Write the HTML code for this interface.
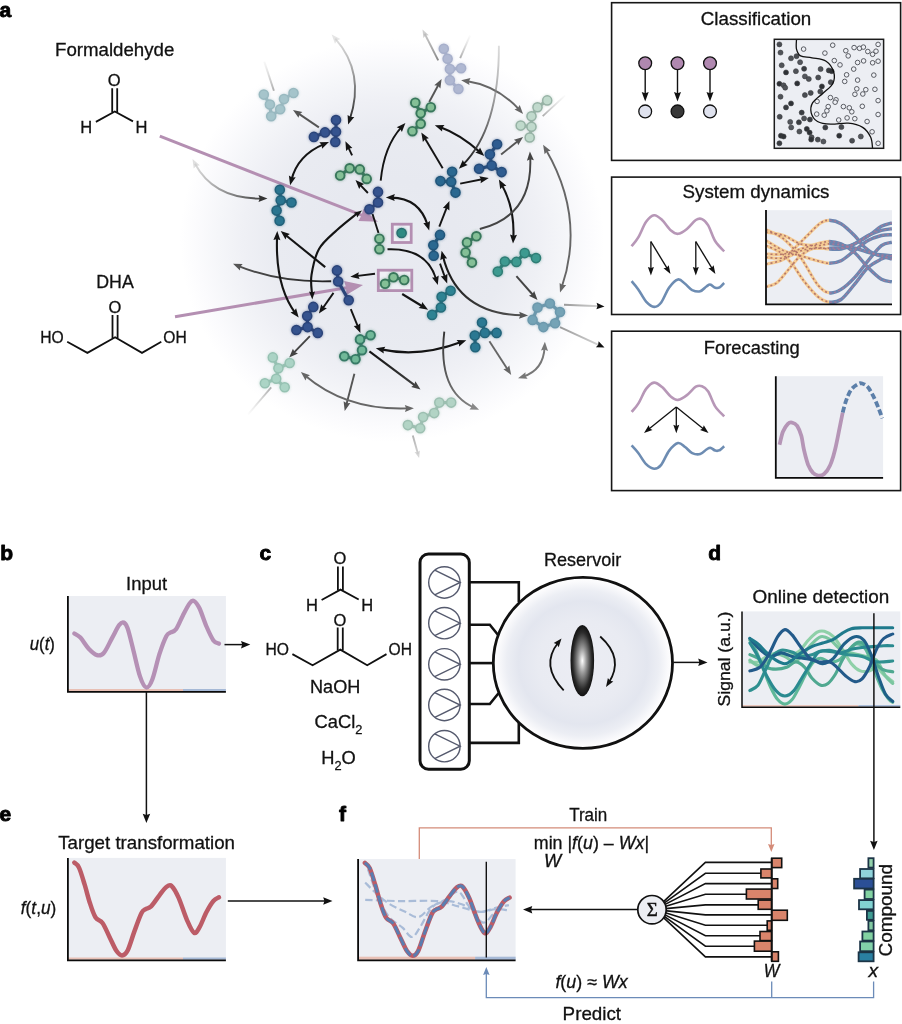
<!DOCTYPE html>
<html><head><meta charset="utf-8"><title>Figure</title>
<style>
html,body{margin:0;padding:0;background:#fff;}
svg{display:block;font-family:"Liberation Sans",sans-serif;}
text:not(.b){stroke:#111;stroke-width:.3px;}
</style></head><body>
<svg width="902" height="1024" viewBox="0 0 902 1024">
<defs>
<radialGradient id="blob" cx="0.5" cy="0.5" r="0.5">
<stop offset="0" stop-color="#e9ebf1"/><stop offset="0.3" stop-color="#e7e9f0"/><stop offset="0.55" stop-color="#e9ebf1"/><stop offset="0.7" stop-color="#eff0f5"/><stop offset="0.82" stop-color="#f5f6f9"/><stop offset="0.92" stop-color="#fbfbfd"/><stop offset="1" stop-color="#ffffff"/>
</radialGradient>
<radialGradient id="resv" cx="0.5" cy="0.5" r="0.5">
<stop offset="0" stop-color="#ecedf4"/><stop offset="0.5" stop-color="#e9ebf2"/><stop offset="0.72" stop-color="#e3e6ef"/><stop offset="0.85" stop-color="#eceef4"/><stop offset="0.95" stop-color="#fafafc"/><stop offset="1" stop-color="#ffffff"/>
</radialGradient>
<radialGradient id="stir" cx="0.5" cy="0.5" r="0.5">
<stop offset="0" stop-color="#ffffff"/><stop offset="0.35" stop-color="#9a9a9a"/><stop offset="0.8" stop-color="#2a2a2a"/><stop offset="1" stop-color="#111"/>
</radialGradient>
<filter id="sh" x="-30%" y="-30%" width="160%" height="160%"><feGaussianBlur in="SourceGraphic" stdDeviation="1.6" result="b"/><feComponentTransfer in="b" result="b2"><feFuncA type="linear" slope="0.55"/></feComponentTransfer><feMerge><feMergeNode in="b2"/><feMergeNode in="SourceGraphic"/></feMerge></filter>
</defs>
<rect width="902" height="1024" fill="#fff"/>
<g opacity="0.999">

<!-- panel a -->
<ellipse cx="392" cy="240" rx="212" ry="202" fill="url(#blob)"/>
<text class="b" x="-0.6" y="17.4" font-size="21" font-weight="bold" fill="#000" stroke="#000" stroke-width="0.9" stroke-linejoin="round">a</text>
<text x="55" y="55.7" font-size="18.6" text-anchor="start" font-weight="normal" font-style="normal" fill="#111" textLength="119.3" lengthAdjust="spacingAndGlyphs" >Formaldehyde</text>
<text x="96.3" y="288" font-size="18.6" text-anchor="start" font-weight="normal" font-style="normal" fill="#111" textLength="37.5" lengthAdjust="spacingAndGlyphs" >DHA</text>
<g stroke="#111" stroke-width="1.8" fill="none" stroke-linecap="butt">
<path d="M112.2 88.3V112.2 M117.2 88.3V112.2"/>
<path d="M95.9 121.9L114.8 111.5L133 121.4"/>
</g>
<text x="114.2" y="85.9" font-size="16.5" text-anchor="middle" font-weight="normal" font-style="normal" fill="#111" >O</text>
<text x="86.2" y="132.5" font-size="16.5" text-anchor="middle" font-weight="normal" font-style="normal" fill="#111" >H</text>
<text x="141.5" y="132.5" font-size="16.5" text-anchor="middle" font-weight="normal" font-style="normal" fill="#111" >H</text>
<g stroke="#111" stroke-width="1.8" fill="none">
<path d="M112.5 315.1V338 M117.6 315.1V338"/>
<path d="M67.2 341.8L87.4 352.9L115.1 337.3L142 352.9L161.3 341.8"/>
</g>
<text x="114.8" y="313.3" font-size="16.5" text-anchor="middle" font-weight="normal" font-style="normal" fill="#111" >O</text>
<text x="40.3" y="343" font-size="16.5" text-anchor="start" font-weight="normal" font-style="normal" fill="#111" textLength="23.5" lengthAdjust="spacingAndGlyphs" >HO</text>
<text x="163.3" y="343" font-size="16.5" text-anchor="start" font-weight="normal" font-style="normal" fill="#111" textLength="23.4" lengthAdjust="spacingAndGlyphs" >OH</text>
<path d="M159.8 136.2L363 215.7" stroke="#b48fb2" stroke-width="3" fill="none"/>
<polygon points="378,221.7 358.4,221 361.6,215.3 363.1,208.9" fill="#b48fb2"/>
<path d="M175 316.7L348 287.5" stroke="#b48fb2" stroke-width="3" fill="none"/>
<polygon points="363,285 346.4,294.9 346.1,287.8 344.1,281.1" fill="#b48fb2"/>
<rect x="392.3" y="224.2" width="18.9" height="18.3" fill="#eff0f6" stroke="#b48fb2" stroke-width="2.8"/>
<rect x="378.3" y="270.2" width="33.5" height="20.4" fill="#eff0f6" stroke="#b48fb2" stroke-width="2.8"/>
<linearGradient id="g1" gradientUnits="userSpaceOnUse" x1="273.9" y1="90.8" x2="264.3" y2="61.6"><stop offset="0" stop-color="#999" stop-opacity="0.8"/><stop offset="1" stop-color="#bbb" stop-opacity="0.1"/></linearGradient>
<path d="M273.9 90.8L264.3 61.6" fill="none" stroke="url(#g1)" stroke-width="1.9" opacity="1"/>
<linearGradient id="g2" gradientUnits="userSpaceOnUse" x1="271.2" y1="387.3" x2="248.1" y2="414.3"><stop offset="0" stop-color="#999" stop-opacity="0.8"/><stop offset="1" stop-color="#bbb" stop-opacity="0.05"/></linearGradient>
<path d="M271.2 387.3L248.1 414.3" fill="none" stroke="url(#g2)" stroke-width="1.8" opacity="1"/>
<linearGradient id="g3" gradientUnits="userSpaceOnUse" x1="460.2" y1="58.2" x2="470.1" y2="35.3"><stop offset="0" stop-color="#999" stop-opacity="0.8"/><stop offset="1" stop-color="#bbb" stop-opacity="0.05"/></linearGradient>
<path d="M460.2 58.2L470.1 35.3" fill="none" stroke="url(#g3)" stroke-width="1.9" opacity="1"/>
<linearGradient id="g4" gradientUnits="userSpaceOnUse" x1="542.7" y1="116.2" x2="565.2" y2="95.3"><stop offset="0" stop-color="#999" stop-opacity="0.8"/><stop offset="1" stop-color="#bbb" stop-opacity="0.05"/></linearGradient>
<path d="M542.7 116.2L565.2 95.3" fill="none" stroke="url(#g4)" stroke-width="1.8" opacity="1"/>
<linearGradient id="g5" gradientUnits="userSpaceOnUse" x1="438.2" y1="60.4" x2="422.5" y2="29.4"><stop offset="0" stop-color="#888" stop-opacity="1"/><stop offset="1" stop-color="#bbb" stop-opacity="0.7"/></linearGradient>
<path d="M438.2 60.4L424.7 33.7" fill="none" stroke="url(#g5)" stroke-width="1.9" opacity="1"/>
<polygon points="422.5,29.4 428.8,35.2 425.6,35.6 423.4,37.9" fill="#bbb" opacity="0.7"/>
<linearGradient id="g6" gradientUnits="userSpaceOnUse" x1="412.8" y1="435.6" x2="419.1" y2="458.1"><stop offset="0" stop-color="#aaa" stop-opacity="0.9"/><stop offset="1" stop-color="#ccc" stop-opacity="0.8"/></linearGradient>
<path d="M412.8 435.6L418 454.1" fill="none" stroke="url(#g6)" stroke-width="1.9" opacity="1"/>
<polygon points="419.1,458.1 414.6,452.1 417.5,452.2 419.9,450.6" fill="#ccc" opacity="0.8"/>
<linearGradient id="g7" gradientUnits="userSpaceOnUse" x1="331.7" y1="34.6" x2="348.1" y2="124.5"><stop offset="0" stop-color="#ccc" stop-opacity="0.5"/><stop offset="1" stop-color="#1a1a1a" stop-opacity="1"/></linearGradient>
<path d="M335.3 38.7Q365.3 72.9 349.8 119.4" fill="none" stroke="url(#g7)" stroke-width="1.9" opacity="1"/>
<polygon points="348.1,124.5 347.6,114.9 350.6,117.1 354.3,117.1" fill="#1a1a1a" opacity="1"/>
<polygon points="331.7,34.6 340.3,39.1 336.9,40.5 335,43.7" fill="#ccc" opacity="0.5"/>
<path d="M318.9 127.4L297.5 112.9" fill="none" stroke="#555" stroke-width="1.9" opacity="1"/>
<polygon points="293,109.9 302.4,112 299.5,114.3 298.5,117.8" fill="#555" opacity="1"/>
<path d="M324 144.1Q297.7 155 291.4 180" fill="none" stroke="#141414" stroke-width="2.1" opacity="1"/>
<polygon points="290.1,185.2 288.9,175.6 292,177.6 295.7,177.3" fill="#141414" opacity="1"/>
<polygon points="329,142 322,148.7 321.8,145 319.3,142.2" fill="#141414" opacity="1"/>
<linearGradient id="g8" gradientUnits="userSpaceOnUse" x1="192.5" y1="159" x2="267.5" y2="198.5"><stop offset="0" stop-color="#ccc" stop-opacity="0.6"/><stop offset="1" stop-color="#333" stop-opacity="1"/></linearGradient>
<path d="M195 163.8Q214 199.2 262.1 198.6" fill="none" stroke="url(#g8)" stroke-width="1.9" opacity="1"/>
<polygon points="267.5,198.5 258.5,202.1 259.7,198.6 258.5,195.1" fill="#333" opacity="1"/>
<polygon points="192.5,159 199.8,165.3 196.2,165.9 193.7,168.6" fill="#ccc" opacity="0.6"/>
<path d="M352.1 155.3L347.7 146.2" fill="none" stroke="#141414" stroke-width="1.9" opacity="1"/>
<polygon points="345.4,141.3 352.4,147.9 348.8,148.4 346.1,150.9" fill="#141414" opacity="1"/>
<path d="M367.9 193L359.2 183.9" fill="none" stroke="#141414" stroke-width="1.9" opacity="1"/>
<polygon points="355.5,180 364.2,184.1 360.9,185.7 359.2,188.9" fill="#141414" opacity="1"/>
<path d="M380.7 180.7Q384 146.2 401.7 126.9" fill="none" stroke="#141414" stroke-width="1.9" opacity="1"/>
<polygon points="405.4,122.9 401.9,131.9 400.1,128.7 396.7,127.2" fill="#141414" opacity="1"/>
<path d="M391.2 197.6Q419.5 198 427.7 225.3" fill="none" stroke="#141414" stroke-width="2.1" opacity="1"/>
<polygon points="429.2,230.5 423.3,222.9 427,223 430,220.9" fill="#141414" opacity="1"/>
<polygon points="385.8,197.5 394.9,194.1 393.6,197.6 394.7,201.1" fill="#141414" opacity="1"/>
<path d="M442.7 168.3L424.1 137" fill="none" stroke="#141414" stroke-width="1.9" opacity="1"/>
<polygon points="421.3,132.4 428.9,138.3 425.3,139.1 422.9,141.9" fill="#141414" opacity="1"/>
<path d="M460.2 183.6L483.5 179" fill="none" stroke="#141414" stroke-width="1.9" opacity="1"/>
<polygon points="488.8,178 480.6,183.2 481.1,179.5 479.3,176.3" fill="#141414" opacity="1"/>
<path d="M439.3 226.7L447.4 205.9" fill="none" stroke="#141414" stroke-width="1.9" opacity="1"/>
<polygon points="449.4,200.9 449.4,210.6 446.5,208.2 442.9,208" fill="#141414" opacity="1"/>
<path d="M429.2 102L439 83.7" fill="none" stroke="#555" stroke-width="1.9" opacity="1"/>
<polygon points="441.6,78.9 440.4,88.5 437.9,85.8 434.3,85.2" fill="#555" opacity="1"/>
<path d="M466.4 81Q497.9 85.9 519.5 109.9" fill="none" stroke="#666" stroke-width="1.9" opacity="1"/>
<polygon points="523.1,113.9 514.5,109.6 517.9,108.1 519.7,104.9" fill="#666" opacity="1"/>
<polygon points="461.1,80.2 470.5,78.1 468.8,81.4 469.5,85" fill="#666" opacity="1"/>
<path d="M439.9 127Q460.4 134.4 480.3 152.4" fill="none" stroke="#141414" stroke-width="2.1" opacity="1"/>
<polygon points="484.3,156 475.3,152.6 478.5,150.7 480,147.4" fill="#141414" opacity="1"/>
<polygon points="434.8,125.2 444.5,124.9 442.2,127.8 442.1,131.5" fill="#141414" opacity="1"/>
<linearGradient id="g9" gradientUnits="userSpaceOnUse" x1="498.9" y1="45.8" x2="458.9" y2="168.8"><stop offset="0" stop-color="#bbb" stop-opacity="0.5"/><stop offset="1" stop-color="#111" stop-opacity="1"/></linearGradient>
<path d="M498.9 45.8Q499.1 128.7 462.7 165" fill="none" stroke="url(#g9)" stroke-width="1.9" opacity="1"/>
<polygon points="458.9,168.8 462.8,160 464.4,163.3 467.7,164.9" fill="#111" opacity="1"/>
<path d="M501.1 154.4L518.9 140.3" fill="none" stroke="#555" stroke-width="1.9" opacity="1"/>
<polygon points="523.1,136.9 518.2,145.2 517,141.8 513.9,139.8" fill="#555" opacity="1"/>
<path d="M501.5 184.3Q515 208.4 513.3 238.2" fill="none" stroke="#141414" stroke-width="2.1" opacity="1"/>
<polygon points="513,243.6 510,234.4 513.5,235.8 517,234.8" fill="#141414" opacity="1"/>
<polygon points="498.9,179.6 506.4,185.7 502.7,186.4 500.2,189.2" fill="#141414" opacity="1"/>
<path d="M479.8 229Q533.1 215.8 530.2 156.9" fill="none" stroke="#444" stroke-width="1.9" opacity="1"/>
<polygon points="529.9,151.5 533.9,160.3 530.3,159.3 526.9,160.7" fill="#444" opacity="1"/>
<path d="M545.8 149.4Q585.5 217.4 561.7 287.4" fill="none" stroke="#666" stroke-width="1.9" opacity="1"/>
<polygon points="560,292.5 559.6,282.9 562.5,285.1 566.2,285.1" fill="#666" opacity="1"/>
<polygon points="543.1,144.7 550.7,150.7 547,151.5 544.6,154.2" fill="#666" opacity="1"/>
<path d="M325.2 267.1L284.9 234.5" fill="none" stroke="#141414" stroke-width="2.1" opacity="1"/>
<polygon points="280.7,231.1 289.9,234 286.8,236 285.5,239.5" fill="#141414" opacity="1"/>
<linearGradient id="g10" gradientUnits="userSpaceOnUse" x1="331.2" y1="281.2" x2="233" y2="263.7"><stop offset="0" stop-color="#222" stop-opacity="1"/><stop offset="1" stop-color="#555" stop-opacity="1"/></linearGradient>
<path d="M331.2 281.2Q279.3 282.8 238 265.8" fill="none" stroke="url(#g10)" stroke-width="1.9" opacity="1"/>
<polygon points="233,263.7 242.7,263.9 240.2,266.7 240,270.4" fill="#555" opacity="1"/>
<path d="M357 213.5C353.7 216.2 343.3 224.1 337 230C330.7 235.9 323.2 241.5 319 249C314.8 256.5 312.7 267.5 311.5 275C310.3 282.5 311.9 290.8 312 294" fill="none" stroke="#141414" stroke-width="2.1"/>
<polygon points="362,210.5 357.2,217.6 356.3,214.5 353.7,212.7" fill="#141414"/>
<polygon points="312.3,299.5 309,291.6 312.1,292.5 315,291.4" fill="#141414"/>
<path d="M277.1 236.5Q275 285.6 295.5 313.3" fill="none" stroke="#141414" stroke-width="2.1" opacity="1"/>
<polygon points="298.7,317.6 290.5,312.5 294,311.3 296.1,308.3" fill="#141414" opacity="1"/>
<polygon points="277.3,231.1 280.4,240.2 277,238.9 273.4,239.9" fill="#141414" opacity="1"/>
<path d="M333.5 292.9L322 309.2" fill="none" stroke="#141414" stroke-width="1.9" opacity="1"/>
<polygon points="318.9,313.6 321.2,304.2 323.4,307.2 326.9,308.3" fill="#141414" opacity="1"/>
<path d="M350.8 309.1L358.4 327.9" fill="none" stroke="#141414" stroke-width="1.9" opacity="1"/>
<polygon points="360.4,332.9 353.8,325.9 357.5,325.6 360.3,323.2" fill="#141414" opacity="1"/>
<path d="M375 273.8L355.7 276.1" fill="none" stroke="#141414" stroke-width="1.9" opacity="1"/>
<polygon points="350.3,276.7 358.8,272.2 358.1,275.8 359.6,279.1" fill="#141414" opacity="1"/>
<path d="M381.1 349.4Q419.6 357.8 461.2 342.1" fill="none" stroke="#141414" stroke-width="2.1" opacity="1"/>
<polygon points="466.3,340.2 459.1,346.6 459,343 456.6,340.1" fill="#141414" opacity="1"/>
<polygon points="375.8,348.2 385.3,346.7 383.4,349.9 383.8,353.5" fill="#141414" opacity="1"/>
<linearGradient id="g11" gradientUnits="userSpaceOnUse" x1="369.4" y1="351.3" x2="420.5" y2="389.5"><stop offset="0" stop-color="#111" stop-opacity="1"/><stop offset="1" stop-color="#444" stop-opacity="1"/></linearGradient>
<path d="M369.4 351.3L416.2 386.3" fill="none" stroke="url(#g11)" stroke-width="2.1" opacity="1"/>
<polygon points="420.5,389.5 411.2,386.9 414.2,384.8 415.4,381.3" fill="#444" opacity="1"/>
<path d="M309.9 336.1L292.9 353.7" fill="none" stroke="#444" stroke-width="1.9" opacity="1"/>
<polygon points="289.2,357.6 292.9,348.7 294.6,352 298,353.5" fill="#444" opacity="1"/>
<path d="M354.4 373.8L346.1 405.7" fill="none" stroke="#555" stroke-width="1.9" opacity="1"/>
<polygon points="344.7,410.9 343.6,401.3 346.7,403.3 350.4,403.1" fill="#555" opacity="1"/>
<path d="M305 375.5Q346.6 410.9 408.5 408.4" fill="none" stroke="#666" stroke-width="1.9" opacity="1"/>
<polygon points="413.9,408.2 405,412.1 406.1,408.5 404.8,405.1" fill="#666" opacity="1"/>
<polygon points="300.9,372 310,375.2 306.9,377.1 305.5,380.5" fill="#666" opacity="1"/>
<path d="M516.4 276.1L533.9 296" fill="none" stroke="#444" stroke-width="1.9" opacity="1"/>
<polygon points="537.5,300.1 528.9,295.7 532.3,294.2 534.2,291" fill="#444" opacity="1"/>
<linearGradient id="g12" gradientUnits="userSpaceOnUse" x1="441.6" y1="250.7" x2="528.1" y2="315.4"><stop offset="0" stop-color="#111" stop-opacity="1"/><stop offset="1" stop-color="#555" stop-opacity="1"/></linearGradient>
<path d="M442.9 255.9Q457.1 314 522.7 315.3" fill="none" stroke="url(#g12)" stroke-width="2.1" opacity="1"/>
<polygon points="528.1,315.4 519,318.7 520.3,315.2 519.2,311.7" fill="#555" opacity="1"/>
<polygon points="441.6,250.7 447.1,258.6 443.5,258.3 440.3,260.3" fill="#111" opacity="1"/>
<path d="M387.5 249.3Q427.4 247.8 436.3 279.9" fill="none" stroke="#141414" stroke-width="2.1" opacity="1"/>
<polygon points="437.8,285.1 432,277.4 435.7,277.6 438.7,275.5" fill="#141414" opacity="1"/>
<path d="M440 263.7L445.4 278.4" fill="none" stroke="#141414" stroke-width="1.9" opacity="1"/>
<polygon points="447.2,283.5 440.8,276.2 444.5,276.1 447.4,273.8" fill="#141414" opacity="1"/>
<path d="M402.2 294L423.5 307" fill="none" stroke="#141414" stroke-width="2.1" opacity="1"/>
<polygon points="428.1,309.8 418.6,308.1 421.4,305.7 422.2,302.1" fill="#141414" opacity="1"/>
<path d="M489.4 341.2L508.3 370.4" fill="none" stroke="#666" stroke-width="1.9" opacity="1"/>
<polygon points="511.2,374.9 503.4,369.2 506.9,368.3 509.3,365.4" fill="#666" opacity="1"/>
<path d="M523.1 376.6Q543.5 370 544.6 347.1" fill="none" stroke="#777" stroke-width="1.9" opacity="1"/>
<polygon points="544.9,341.7 548,350.9 544.5,349.5 541,350.5" fill="#777" opacity="1"/>
<polygon points="518,378.3 525.5,372.2 525.4,375.9 527.6,378.8" fill="#777" opacity="1"/>
<linearGradient id="g13" gradientUnits="userSpaceOnUse" x1="444.3" y1="331.6" x2="479.1" y2="409.8"><stop offset="0" stop-color="#333" stop-opacity="1"/><stop offset="1" stop-color="#888" stop-opacity="1"/></linearGradient>
<path d="M444.3 331.6Q437.3 391.3 474.2 407.6" fill="none" stroke="url(#g13)" stroke-width="1.9" opacity="1"/>
<polygon points="479.1,409.8 469.5,409.4 471.9,406.6 472.3,403" fill="#888" opacity="1"/>
<path d="M372.5 214L378.5 233" fill="none" stroke="#141414" stroke-width="1.9" opacity="1"/>
<linearGradient id="g14" gradientUnits="userSpaceOnUse" x1="564" y1="304.8" x2="604.5" y2="306.4"><stop offset="0" stop-color="#999" stop-opacity="1"/><stop offset="1" stop-color="#ddd" stop-opacity="1"/></linearGradient>
<path d="M564 304.8L599.7 306.2" fill="none" stroke="url(#g14)" stroke-width="1.9" opacity="1"/>
<polygon points="604.5,306.4 596.4,309.3 597.5,306.1 596.6,302.8" fill="#111" opacity="1"/>
<linearGradient id="g15" gradientUnits="userSpaceOnUse" x1="560" y1="327.1" x2="604.5" y2="347.6"><stop offset="0" stop-color="#999" stop-opacity="1"/><stop offset="1" stop-color="#ddd" stop-opacity="1"/></linearGradient>
<path d="M560 327.1L600.1 345.6" fill="none" stroke="url(#g15)" stroke-width="1.9" opacity="1"/>
<polygon points="604.5,347.6 595.9,347.2 598.2,344.7 598.6,341.3" fill="#111" opacity="1"/>
<g opacity="0.9" filter="url(#sh)">
<line x1="263.8" y1="94.6" x2="269.9" y2="104.5" stroke="#8fb2ba" stroke-width="3.2"/>
<line x1="269.9" y1="104.5" x2="271.2" y2="116.2" stroke="#8fb2ba" stroke-width="3.2"/>
<line x1="271.2" y1="116.2" x2="280.2" y2="109.2" stroke="#8fb2ba" stroke-width="3.2"/>
<line x1="280.2" y1="109.2" x2="284" y2="99.1" stroke="#8fb2ba" stroke-width="3.2"/>
<line x1="284" y1="99.1" x2="293.5" y2="93" stroke="#8fb2ba" stroke-width="3.2"/>
<circle cx="263.8" cy="94.6" r="4.55" fill="#9dbfc6" stroke="#8fb2ba" stroke-width="1.5"/>
<circle cx="269.9" cy="104.5" r="4.55" fill="#9dbfc6" stroke="#8fb2ba" stroke-width="1.5"/>
<circle cx="271.2" cy="116.2" r="4.55" fill="#9dbfc6" stroke="#8fb2ba" stroke-width="1.5"/>
<circle cx="280.2" cy="109.2" r="4.55" fill="#9dbfc6" stroke="#8fb2ba" stroke-width="1.5"/>
<circle cx="284" cy="99.1" r="4.55" fill="#9dbfc6" stroke="#8fb2ba" stroke-width="1.5"/>
<circle cx="293.5" cy="93" r="4.55" fill="#9dbfc6" stroke="#8fb2ba" stroke-width="1.5"/>
</g>
<g opacity="1" filter="url(#sh)">
<line x1="336" y1="120" x2="336" y2="131.7" stroke="#2b4479" stroke-width="3.2"/>
<line x1="336" y1="131.7" x2="335.3" y2="142" stroke="#2b4479" stroke-width="3.2"/>
<line x1="336" y1="131.7" x2="325" y2="132.4" stroke="#2b4479" stroke-width="3.2"/>
<line x1="325" y1="132.4" x2="313.9" y2="136.9" stroke="#2b4479" stroke-width="3.2"/>
<circle cx="336" cy="120" r="4.55" fill="#34528e" stroke="#2b4479" stroke-width="1.5"/>
<circle cx="336" cy="131.7" r="4.55" fill="#34528e" stroke="#2b4479" stroke-width="1.5"/>
<circle cx="335.3" cy="142" r="4.55" fill="#34528e" stroke="#2b4479" stroke-width="1.5"/>
<circle cx="325" cy="132.4" r="4.55" fill="#34528e" stroke="#2b4479" stroke-width="1.5"/>
<circle cx="313.9" cy="136.9" r="4.55" fill="#34528e" stroke="#2b4479" stroke-width="1.5"/>
</g>
<g opacity="1" filter="url(#sh)">
<line x1="279.8" y1="189.7" x2="280.7" y2="200.2" stroke="#23617a" stroke-width="3.2"/>
<line x1="280.7" y1="200.2" x2="291.5" y2="202.5" stroke="#23617a" stroke-width="3.2"/>
<line x1="280.7" y1="200.2" x2="276.6" y2="210.6" stroke="#23617a" stroke-width="3.2"/>
<line x1="276.6" y1="210.6" x2="279.6" y2="220.7" stroke="#23617a" stroke-width="3.2"/>
<circle cx="279.8" cy="189.7" r="4.55" fill="#2a7590" stroke="#23617a" stroke-width="1.5"/>
<circle cx="280.7" cy="200.2" r="4.55" fill="#2a7590" stroke="#23617a" stroke-width="1.5"/>
<circle cx="291.5" cy="202.5" r="4.55" fill="#2a7590" stroke="#23617a" stroke-width="1.5"/>
<circle cx="276.6" cy="210.6" r="4.55" fill="#2a7590" stroke="#23617a" stroke-width="1.5"/>
<circle cx="279.6" cy="220.7" r="4.55" fill="#2a7590" stroke="#23617a" stroke-width="1.5"/>
</g>
<g opacity="1" filter="url(#sh)">
<line x1="340.2" y1="175.5" x2="349.7" y2="168.3" stroke="#39775c" stroke-width="3.2"/>
<line x1="349.7" y1="168.3" x2="359.8" y2="169.4" stroke="#39775c" stroke-width="3.2"/>
<line x1="359.8" y1="169.4" x2="366.7" y2="178.9" stroke="#39775c" stroke-width="3.2"/>
<circle cx="340.2" cy="175.5" r="4.35" fill="#84bf96" stroke="#39775c" stroke-width="1.9"/>
<circle cx="349.7" cy="168.3" r="4.35" fill="#84bf96" stroke="#39775c" stroke-width="1.9"/>
<circle cx="359.8" cy="169.4" r="4.35" fill="#84bf96" stroke="#39775c" stroke-width="1.9"/>
<circle cx="366.7" cy="178.9" r="4.35" fill="#84bf96" stroke="#39775c" stroke-width="1.9"/>
</g>
<g opacity="1" filter="url(#sh)">
<line x1="378" y1="191.9" x2="378" y2="202.5" stroke="#2b4479" stroke-width="3.2"/>
<line x1="378" y1="202.5" x2="369.4" y2="209.2" stroke="#2b4479" stroke-width="3.2"/>
<circle cx="378" cy="191.9" r="4.55" fill="#34528e" stroke="#2b4479" stroke-width="1.5"/>
<circle cx="378" cy="202.5" r="4.55" fill="#34528e" stroke="#2b4479" stroke-width="1.5"/>
<circle cx="369.4" cy="209.2" r="4.55" fill="#34528e" stroke="#2b4479" stroke-width="1.5"/>
</g>
<g opacity="0.85" filter="url(#sh)">
<line x1="443.8" y1="48.8" x2="447.6" y2="58.7" stroke="#98a2c2" stroke-width="3.2"/>
<line x1="447.6" y1="58.7" x2="449.9" y2="69" stroke="#98a2c2" stroke-width="3.2"/>
<line x1="449.9" y1="69" x2="461.1" y2="68.3" stroke="#98a2c2" stroke-width="3.2"/>
<line x1="449.9" y1="69" x2="449.9" y2="80.2" stroke="#98a2c2" stroke-width="3.2"/>
<line x1="449.9" y1="80.2" x2="458.4" y2="89" stroke="#98a2c2" stroke-width="3.2"/>
<circle cx="443.8" cy="48.8" r="4.55" fill="#a3adcb" stroke="#98a2c2" stroke-width="1.5"/>
<circle cx="447.6" cy="58.7" r="4.55" fill="#a3adcb" stroke="#98a2c2" stroke-width="1.5"/>
<circle cx="449.9" cy="69" r="4.55" fill="#a3adcb" stroke="#98a2c2" stroke-width="1.5"/>
<circle cx="461.1" cy="68.3" r="4.55" fill="#a3adcb" stroke="#98a2c2" stroke-width="1.5"/>
<circle cx="449.9" cy="80.2" r="4.55" fill="#a3adcb" stroke="#98a2c2" stroke-width="1.5"/>
<circle cx="458.4" cy="89" r="4.55" fill="#a3adcb" stroke="#98a2c2" stroke-width="1.5"/>
</g>
<g opacity="1" filter="url(#sh)">
<line x1="415.3" y1="102.7" x2="420.7" y2="113.3" stroke="#39775c" stroke-width="3.2"/>
<line x1="430.8" y1="107.2" x2="420.7" y2="113.3" stroke="#39775c" stroke-width="3.2"/>
<line x1="420.7" y1="113.3" x2="420.7" y2="123.8" stroke="#39775c" stroke-width="3.2"/>
<line x1="420.7" y1="123.8" x2="412.4" y2="131.2" stroke="#39775c" stroke-width="3.2"/>
<circle cx="415.3" cy="102.7" r="4.35" fill="#84bf96" stroke="#39775c" stroke-width="1.9"/>
<circle cx="430.8" cy="107.2" r="4.35" fill="#84bf96" stroke="#39775c" stroke-width="1.9"/>
<circle cx="420.7" cy="113.3" r="4.35" fill="#84bf96" stroke="#39775c" stroke-width="1.9"/>
<circle cx="420.7" cy="123.8" r="4.35" fill="#84bf96" stroke="#39775c" stroke-width="1.9"/>
<circle cx="412.4" cy="131.2" r="4.35" fill="#84bf96" stroke="#39775c" stroke-width="1.9"/>
</g>
<g opacity="0.9" filter="url(#sh)">
<line x1="547.2" y1="100.4" x2="537.5" y2="107.2" stroke="#8cab9c" stroke-width="3.2"/>
<line x1="537.5" y1="107.2" x2="531.5" y2="116.2" stroke="#8cab9c" stroke-width="3.2"/>
<line x1="531.5" y1="116.2" x2="531.5" y2="126.7" stroke="#8cab9c" stroke-width="3.2"/>
<line x1="520.7" y1="125.6" x2="531.5" y2="126.7" stroke="#8cab9c" stroke-width="3.2"/>
<line x1="531.5" y1="126.7" x2="529.7" y2="137.5" stroke="#8cab9c" stroke-width="3.2"/>
<circle cx="547.2" cy="100.4" r="4.55" fill="#bad6c7" stroke="#8cab9c" stroke-width="1.5"/>
<circle cx="537.5" cy="107.2" r="4.55" fill="#bad6c7" stroke="#8cab9c" stroke-width="1.5"/>
<circle cx="531.5" cy="116.2" r="4.55" fill="#bad6c7" stroke="#8cab9c" stroke-width="1.5"/>
<circle cx="520.7" cy="125.6" r="4.55" fill="#bad6c7" stroke="#8cab9c" stroke-width="1.5"/>
<circle cx="531.5" cy="126.7" r="4.55" fill="#bad6c7" stroke="#8cab9c" stroke-width="1.5"/>
<circle cx="529.7" cy="137.5" r="4.55" fill="#bad6c7" stroke="#8cab9c" stroke-width="1.5"/>
</g>
<g opacity="1" filter="url(#sh)">
<line x1="497.1" y1="144.3" x2="489.9" y2="154.2" stroke="#274d7b" stroke-width="3.2"/>
<line x1="489.9" y1="154.2" x2="491.7" y2="165.6" stroke="#274d7b" stroke-width="3.2"/>
<line x1="491.7" y1="165.6" x2="479.1" y2="168.8" stroke="#274d7b" stroke-width="3.2"/>
<line x1="491.7" y1="165.6" x2="501.6" y2="172.1" stroke="#274d7b" stroke-width="3.2"/>
<circle cx="497.1" cy="144.3" r="4.55" fill="#2f5c90" stroke="#274d7b" stroke-width="1.5"/>
<circle cx="489.9" cy="154.2" r="4.55" fill="#2f5c90" stroke="#274d7b" stroke-width="1.5"/>
<circle cx="491.7" cy="165.6" r="4.55" fill="#2f5c90" stroke="#274d7b" stroke-width="1.5"/>
<circle cx="479.1" cy="168.8" r="4.55" fill="#2f5c90" stroke="#274d7b" stroke-width="1.5"/>
<circle cx="501.6" cy="172.1" r="4.55" fill="#2f5c90" stroke="#274d7b" stroke-width="1.5"/>
</g>
<g opacity="1" filter="url(#sh)">
<line x1="452.1" y1="171.7" x2="451.2" y2="181.8" stroke="#22567a" stroke-width="3.2"/>
<line x1="440.4" y1="181.1" x2="451.2" y2="181.8" stroke="#22567a" stroke-width="3.2"/>
<line x1="451.2" y1="181.8" x2="455.5" y2="192.6" stroke="#22567a" stroke-width="3.2"/>
<circle cx="452.1" cy="171.7" r="4.55" fill="#2a6790" stroke="#22567a" stroke-width="1.5"/>
<circle cx="440.4" cy="181.1" r="4.55" fill="#2a6790" stroke="#22567a" stroke-width="1.5"/>
<circle cx="451.2" cy="181.8" r="4.55" fill="#2a6790" stroke="#22567a" stroke-width="1.5"/>
<circle cx="455.5" cy="192.6" r="4.55" fill="#2a6790" stroke="#22567a" stroke-width="1.5"/>
</g>
<g opacity="1" filter="url(#sh)">
<line x1="337" y1="270.4" x2="338.2" y2="281.5" stroke="#2b4479" stroke-width="3.2"/>
<line x1="338.2" y1="281.5" x2="348.7" y2="300.3" stroke="#2b4479" stroke-width="3.2"/>
<circle cx="337" cy="270.4" r="4.55" fill="#34528e" stroke="#2b4479" stroke-width="1.5"/>
<circle cx="338.2" cy="281.5" r="4.55" fill="#34528e" stroke="#2b4479" stroke-width="1.5"/>
<circle cx="348.7" cy="300.3" r="4.55" fill="#34528e" stroke="#2b4479" stroke-width="1.5"/>
</g>
<g opacity="1" filter="url(#sh)">
<line x1="313.3" y1="306.9" x2="307.2" y2="316.1" stroke="#2b4479" stroke-width="3.2"/>
<line x1="307.2" y1="316.1" x2="307.6" y2="327.1" stroke="#2b4479" stroke-width="3.2"/>
<line x1="307.6" y1="327.1" x2="296.4" y2="330" stroke="#2b4479" stroke-width="3.2"/>
<line x1="307.6" y1="327.1" x2="317.8" y2="332.9" stroke="#2b4479" stroke-width="3.2"/>
<circle cx="313.3" cy="306.9" r="4.55" fill="#34528e" stroke="#2b4479" stroke-width="1.5"/>
<circle cx="307.2" cy="316.1" r="4.55" fill="#34528e" stroke="#2b4479" stroke-width="1.5"/>
<circle cx="307.6" cy="327.1" r="4.55" fill="#34528e" stroke="#2b4479" stroke-width="1.5"/>
<circle cx="296.4" cy="330" r="4.55" fill="#34528e" stroke="#2b4479" stroke-width="1.5"/>
<circle cx="317.8" cy="332.9" r="4.55" fill="#34528e" stroke="#2b4479" stroke-width="1.5"/>
</g>
<g opacity="1" filter="url(#sh)">
<line x1="370.6" y1="335.2" x2="360" y2="339.4" stroke="#377a66" stroke-width="3.2"/>
<line x1="360" y1="339.4" x2="362" y2="350.2" stroke="#377a66" stroke-width="3.2"/>
<line x1="362" y1="350.2" x2="355.5" y2="359.2" stroke="#377a66" stroke-width="3.2"/>
<line x1="355.5" y1="359.2" x2="344.3" y2="356.3" stroke="#377a66" stroke-width="3.2"/>
<circle cx="370.6" cy="335.2" r="4.35" fill="#6fb898" stroke="#377a66" stroke-width="1.9"/>
<circle cx="360" cy="339.4" r="4.35" fill="#6fb898" stroke="#377a66" stroke-width="1.9"/>
<circle cx="362" cy="350.2" r="4.35" fill="#6fb898" stroke="#377a66" stroke-width="1.9"/>
<circle cx="355.5" cy="359.2" r="4.35" fill="#6fb898" stroke="#377a66" stroke-width="1.9"/>
<circle cx="344.3" cy="356.3" r="4.35" fill="#6fb898" stroke="#377a66" stroke-width="1.9"/>
</g>
<g opacity="0.9" filter="url(#sh)">
<line x1="272.8" y1="357.4" x2="278.4" y2="368.2" stroke="#8cbcab" stroke-width="3.2"/>
<line x1="289.7" y1="363" x2="278.4" y2="368.2" stroke="#8cbcab" stroke-width="3.2"/>
<line x1="278.4" y1="368.2" x2="276.2" y2="378.8" stroke="#8cbcab" stroke-width="3.2"/>
<line x1="276.2" y1="378.8" x2="264.9" y2="383.3" stroke="#8cbcab" stroke-width="3.2"/>
<line x1="276.2" y1="378.8" x2="284.7" y2="387.3" stroke="#8cbcab" stroke-width="3.2"/>
<circle cx="272.8" cy="357.4" r="4.55" fill="#a3d0c0" stroke="#8cbcab" stroke-width="1.5"/>
<circle cx="289.7" cy="363" r="4.55" fill="#a3d0c0" stroke="#8cbcab" stroke-width="1.5"/>
<circle cx="278.4" cy="368.2" r="4.55" fill="#a3d0c0" stroke="#8cbcab" stroke-width="1.5"/>
<circle cx="276.2" cy="378.8" r="4.55" fill="#a3d0c0" stroke="#8cbcab" stroke-width="1.5"/>
<circle cx="264.9" cy="383.3" r="4.55" fill="#a3d0c0" stroke="#8cbcab" stroke-width="1.5"/>
<circle cx="284.7" cy="387.3" r="4.55" fill="#a3d0c0" stroke="#8cbcab" stroke-width="1.5"/>
</g>
<g opacity="1" filter="url(#sh)">
<line x1="440" y1="234.9" x2="433.3" y2="245.3" stroke="#22567a" stroke-width="3.2"/>
<line x1="433.3" y1="245.3" x2="433.7" y2="255.8" stroke="#22567a" stroke-width="3.2"/>
<circle cx="440" cy="234.9" r="4.55" fill="#2a6790" stroke="#22567a" stroke-width="1.5"/>
<circle cx="433.3" cy="245.3" r="4.55" fill="#2a6790" stroke="#22567a" stroke-width="1.5"/>
<circle cx="433.7" cy="255.8" r="4.55" fill="#2a6790" stroke="#22567a" stroke-width="1.5"/>
</g>
<g opacity="1" filter="url(#sh)">
<line x1="476.4" y1="236.3" x2="467" y2="242.4" stroke="#39775c" stroke-width="3.2"/>
<line x1="467" y1="242.4" x2="465.6" y2="252.5" stroke="#39775c" stroke-width="3.2"/>
<line x1="465.6" y1="252.5" x2="471.9" y2="262.6" stroke="#39775c" stroke-width="3.2"/>
<circle cx="476.4" cy="236.3" r="4.35" fill="#84bf96" stroke="#39775c" stroke-width="1.9"/>
<circle cx="467" cy="242.4" r="4.35" fill="#84bf96" stroke="#39775c" stroke-width="1.9"/>
<circle cx="465.6" cy="252.5" r="4.35" fill="#84bf96" stroke="#39775c" stroke-width="1.9"/>
<circle cx="471.9" cy="262.6" r="4.35" fill="#84bf96" stroke="#39775c" stroke-width="1.9"/>
</g>
<g opacity="1" filter="url(#sh)">
<line x1="497.8" y1="271.6" x2="504.9" y2="261.5" stroke="#2f7d75" stroke-width="3.2"/>
<line x1="504.9" y1="261.5" x2="516.4" y2="261.9" stroke="#2f7d75" stroke-width="3.2"/>
<line x1="516.4" y1="261.9" x2="524.7" y2="253.1" stroke="#2f7d75" stroke-width="3.2"/>
<line x1="524.7" y1="253.1" x2="536" y2="258.1" stroke="#2f7d75" stroke-width="3.2"/>
<circle cx="497.8" cy="271.6" r="4.55" fill="#3e9a90" stroke="#2f7d75" stroke-width="1.5"/>
<circle cx="504.9" cy="261.5" r="4.55" fill="#3e9a90" stroke="#2f7d75" stroke-width="1.5"/>
<circle cx="516.4" cy="261.9" r="4.55" fill="#3e9a90" stroke="#2f7d75" stroke-width="1.5"/>
<circle cx="524.7" cy="253.1" r="4.55" fill="#3e9a90" stroke="#2f7d75" stroke-width="1.5"/>
<circle cx="536" cy="258.1" r="4.55" fill="#3e9a90" stroke="#2f7d75" stroke-width="1.5"/>
</g>
<g opacity="0.95" filter="url(#sh)">
<line x1="537.5" y1="307.5" x2="549.9" y2="303.5" stroke="#6594a9" stroke-width="3.2"/>
<line x1="549.9" y1="303.5" x2="560" y2="312" stroke="#6594a9" stroke-width="3.2"/>
<line x1="560" y1="312" x2="555.1" y2="323.3" stroke="#6594a9" stroke-width="3.2"/>
<line x1="555.1" y1="323.3" x2="543.4" y2="327.1" stroke="#6594a9" stroke-width="3.2"/>
<line x1="543.4" y1="327.1" x2="532.6" y2="319.9" stroke="#6594a9" stroke-width="3.2"/>
<line x1="532.6" y1="319.9" x2="537.5" y2="307.5" stroke="#6594a9" stroke-width="3.2"/>
<circle cx="537.5" cy="307.5" r="4.55" fill="#6e9fb3" stroke="#6594a9" stroke-width="1.5"/>
<circle cx="549.9" cy="303.5" r="4.55" fill="#6e9fb3" stroke="#6594a9" stroke-width="1.5"/>
<circle cx="560" cy="312" r="4.55" fill="#6e9fb3" stroke="#6594a9" stroke-width="1.5"/>
<circle cx="555.1" cy="323.3" r="4.55" fill="#6e9fb3" stroke="#6594a9" stroke-width="1.5"/>
<circle cx="543.4" cy="327.1" r="4.55" fill="#6e9fb3" stroke="#6594a9" stroke-width="1.5"/>
<circle cx="532.6" cy="319.9" r="4.55" fill="#6e9fb3" stroke="#6594a9" stroke-width="1.5"/>
</g>
<g opacity="1" filter="url(#sh)">
<line x1="450.6" y1="290.7" x2="441.6" y2="296.7" stroke="#256c7a" stroke-width="3.2"/>
<line x1="441.6" y1="296.7" x2="440.9" y2="307.5" stroke="#256c7a" stroke-width="3.2"/>
<line x1="440.9" y1="307.5" x2="432.1" y2="314.9" stroke="#256c7a" stroke-width="3.2"/>
<circle cx="450.6" cy="290.7" r="4.55" fill="#2e8393" stroke="#256c7a" stroke-width="1.5"/>
<circle cx="441.6" cy="296.7" r="4.55" fill="#2e8393" stroke="#256c7a" stroke-width="1.5"/>
<circle cx="440.9" cy="307.5" r="4.55" fill="#2e8393" stroke="#256c7a" stroke-width="1.5"/>
<circle cx="432.1" cy="314.9" r="4.55" fill="#2e8393" stroke="#256c7a" stroke-width="1.5"/>
</g>
<g opacity="1" filter="url(#sh)">
<line x1="482" y1="322.6" x2="484.9" y2="332.9" stroke="#23647a" stroke-width="3.2"/>
<line x1="484.9" y1="332.9" x2="496.6" y2="332.9" stroke="#23647a" stroke-width="3.2"/>
<line x1="484.9" y1="332.9" x2="474.8" y2="335.6" stroke="#23647a" stroke-width="3.2"/>
<line x1="474.8" y1="335.6" x2="475.3" y2="347.3" stroke="#23647a" stroke-width="3.2"/>
<circle cx="482" cy="322.6" r="4.55" fill="#2b7892" stroke="#23647a" stroke-width="1.5"/>
<circle cx="484.9" cy="332.9" r="4.55" fill="#2b7892" stroke="#23647a" stroke-width="1.5"/>
<circle cx="496.6" cy="332.9" r="4.55" fill="#2b7892" stroke="#23647a" stroke-width="1.5"/>
<circle cx="474.8" cy="335.6" r="4.55" fill="#2b7892" stroke="#23647a" stroke-width="1.5"/>
<circle cx="475.3" cy="347.3" r="4.55" fill="#2b7892" stroke="#23647a" stroke-width="1.5"/>
</g>
<g opacity="0.9" filter="url(#sh)">
<line x1="451.2" y1="402.6" x2="439.3" y2="402.6" stroke="#93b9a9" stroke-width="3.2"/>
<line x1="439.3" y1="402.6" x2="434.2" y2="413.1" stroke="#93b9a9" stroke-width="3.2"/>
<line x1="434.2" y1="413.1" x2="423.1" y2="417" stroke="#93b9a9" stroke-width="3.2"/>
<line x1="423.1" y1="417" x2="420.2" y2="428.2" stroke="#93b9a9" stroke-width="3.2"/>
<line x1="420.2" y1="428.2" x2="407.9" y2="425.1" stroke="#93b9a9" stroke-width="3.2"/>
<circle cx="451.2" cy="402.6" r="4.55" fill="#abd0c0" stroke="#93b9a9" stroke-width="1.5"/>
<circle cx="439.3" cy="402.6" r="4.55" fill="#abd0c0" stroke="#93b9a9" stroke-width="1.5"/>
<circle cx="434.2" cy="413.1" r="4.55" fill="#abd0c0" stroke="#93b9a9" stroke-width="1.5"/>
<circle cx="423.1" cy="417" r="4.55" fill="#abd0c0" stroke="#93b9a9" stroke-width="1.5"/>
<circle cx="420.2" cy="428.2" r="4.55" fill="#abd0c0" stroke="#93b9a9" stroke-width="1.5"/>
<circle cx="407.9" cy="425.1" r="4.55" fill="#abd0c0" stroke="#93b9a9" stroke-width="1.5"/>
</g>
<g opacity="1" filter="url(#sh)">
<line x1="379.4" y1="238.7" x2="379.4" y2="249.2" stroke="#39775c" stroke-width="3.2"/>
<circle cx="379.4" cy="238.7" r="4.35" fill="#84bf96" stroke="#39775c" stroke-width="1.9"/>
<circle cx="379.4" cy="249.2" r="4.35" fill="#84bf96" stroke="#39775c" stroke-width="1.9"/>
</g>
<g opacity="1" filter="url(#sh)">
<circle cx="401.6" cy="233" r="4.6" fill="#2e8a82" stroke="#2a6f70" stroke-width="1.5"/>
</g>
<g opacity="1" filter="url(#sh)">
<line x1="385.1" y1="283.8" x2="393.5" y2="277.3" stroke="#39775c" stroke-width="3.2"/>
<line x1="393.5" y1="277.3" x2="404.2" y2="280" stroke="#39775c" stroke-width="3.2"/>
<circle cx="385.1" cy="283.8" r="4.35" fill="#84bf96" stroke="#39775c" stroke-width="1.9"/>
<circle cx="393.5" cy="277.3" r="4.35" fill="#84bf96" stroke="#39775c" stroke-width="1.9"/>
<circle cx="404.2" cy="280" r="4.35" fill="#84bf96" stroke="#39775c" stroke-width="1.9"/>
</g>
<!-- right panels -->
<rect x="611.6" y="2.7" width="289" height="157.7" fill="#fff" stroke="#161616" stroke-width="1.6"/>
<rect x="611.6" y="177.1" width="289" height="137.4" fill="#fff" stroke="#161616" stroke-width="1.6"/>
<rect x="611.6" y="331.2" width="289" height="159.4" fill="#fff" stroke="#161616" stroke-width="1.6"/>
<text x="700.8" y="24.6" font-size="18.6" text-anchor="start" font-weight="normal" font-style="normal" fill="#111" textLength="110.5" lengthAdjust="spacingAndGlyphs" >Classification</text>
<text x="682.5" y="197.6" font-size="18.6" text-anchor="start" font-weight="normal" font-style="normal" fill="#111" textLength="147" lengthAdjust="spacingAndGlyphs" >System dynamics</text>
<text x="703.8" y="353.5" font-size="18.6" text-anchor="start" font-weight="normal" font-style="normal" fill="#111" textLength="96" lengthAdjust="spacingAndGlyphs" >Forecasting</text>
<circle cx="645.2" cy="63.3" r="6.4" fill="#b088b0" stroke="#111" stroke-width="1.3"/>
<circle cx="645.2" cy="111.4" r="6.4" fill="#dfe2ee" stroke="#111" stroke-width="1.3"/>
<path d="M645.2 70L645.2 95.8" fill="none" stroke="#111" stroke-width="1.4" opacity="1"/>
<polygon points="645.2,101.5 641.7,92 645.2,93.2 648.7,92" fill="#111" opacity="1"/>
<circle cx="677.5" cy="63.3" r="6.4" fill="#b088b0" stroke="#111" stroke-width="1.3"/>
<circle cx="677.5" cy="111.4" r="6.4" fill="#383838" stroke="#111" stroke-width="1.3"/>
<path d="M677.5 70L677.5 95.8" fill="none" stroke="#111" stroke-width="1.4" opacity="1"/>
<polygon points="677.5,101.5 674,92 677.5,93.2 681,92" fill="#111" opacity="1"/>
<circle cx="710" cy="63.3" r="6.4" fill="#b088b0" stroke="#111" stroke-width="1.3"/>
<circle cx="710" cy="111.4" r="6.4" fill="#dfe2ee" stroke="#111" stroke-width="1.3"/>
<path d="M710 70L710 95.8" fill="none" stroke="#111" stroke-width="1.4" opacity="1"/>
<polygon points="710,101.5 706.5,92 710,93.2 713.5,92" fill="#111" opacity="1"/>
<rect x="774.3" y="39.3" width="109.3" height="109" fill="#eceef3"/>
<circle cx="779.4" cy="44.4" r="2.5" fill="#4a4d52" stroke="#3a3c40" stroke-width="0.6"/>
<circle cx="780.5" cy="52.6" r="2.5" fill="#505358" stroke="#3a3c40" stroke-width="0.6"/>
<circle cx="791" cy="58.3" r="2.5" fill="#505358" stroke="#3a3c40" stroke-width="0.6"/>
<circle cx="796.5" cy="56.2" r="2.5" fill="#4a4d52" stroke="#3a3c40" stroke-width="0.6"/>
<circle cx="800.1" cy="62.2" r="2.5" fill="#55585e" stroke="#3a3c40" stroke-width="0.6"/>
<circle cx="781.7" cy="65.3" r="2.5" fill="#505358" stroke="#3a3c40" stroke-width="0.6"/>
<circle cx="786" cy="72.4" r="2.5" fill="#2f3236" stroke="#3a3c40" stroke-width="0.6"/>
<circle cx="795.9" cy="71.2" r="2.5" fill="#505358" stroke="#3a3c40" stroke-width="0.6"/>
<circle cx="804.1" cy="68.8" r="2.5" fill="#3a3d42" stroke="#3a3c40" stroke-width="0.6"/>
<circle cx="820.6" cy="69.1" r="2.5" fill="#505358" stroke="#3a3c40" stroke-width="0.6"/>
<circle cx="828.8" cy="70.4" r="2.5" fill="#3a3d42" stroke="#3a3c40" stroke-width="0.6"/>
<circle cx="831.6" cy="71.2" r="2.5" fill="#2f3236" stroke="#3a3c40" stroke-width="0.6"/>
<circle cx="804.9" cy="76.4" r="2.5" fill="#55585e" stroke="#3a3c40" stroke-width="0.6"/>
<circle cx="808.8" cy="79" r="2.5" fill="#505358" stroke="#3a3c40" stroke-width="0.6"/>
<circle cx="818.2" cy="77.5" r="2.5" fill="#4a4d52" stroke="#3a3c40" stroke-width="0.6"/>
<circle cx="830.8" cy="82.2" r="2.5" fill="#4a4d52" stroke="#3a3c40" stroke-width="0.6"/>
<circle cx="779.4" cy="83.8" r="2.5" fill="#2f3236" stroke="#3a3c40" stroke-width="0.6"/>
<circle cx="783.6" cy="85.3" r="2.5" fill="#505358" stroke="#3a3c40" stroke-width="0.6"/>
<circle cx="785.2" cy="87.7" r="2.5" fill="#505358" stroke="#3a3c40" stroke-width="0.6"/>
<circle cx="797.2" cy="83.4" r="2.5" fill="#2f3236" stroke="#3a3c40" stroke-width="0.6"/>
<circle cx="821.9" cy="86.4" r="2.5" fill="#2f3236" stroke="#3a3c40" stroke-width="0.6"/>
<circle cx="820.3" cy="91.6" r="2.5" fill="#4a4d52" stroke="#3a3c40" stroke-width="0.6"/>
<circle cx="810.7" cy="92.9" r="2.5" fill="#4a4d52" stroke="#3a3c40" stroke-width="0.6"/>
<circle cx="804.9" cy="95.1" r="2.5" fill="#4a4d52" stroke="#3a3c40" stroke-width="0.6"/>
<circle cx="780.5" cy="96.7" r="2.5" fill="#505358" stroke="#3a3c40" stroke-width="0.6"/>
<circle cx="791" cy="103.4" r="2.5" fill="#2f3236" stroke="#3a3c40" stroke-width="0.6"/>
<circle cx="786" cy="107.4" r="2.5" fill="#3a3d42" stroke="#3a3c40" stroke-width="0.6"/>
<circle cx="801.7" cy="112.6" r="2.5" fill="#3a3d42" stroke="#3a3c40" stroke-width="0.6"/>
<circle cx="779.7" cy="116.8" r="2.5" fill="#4a4d52" stroke="#3a3c40" stroke-width="0.6"/>
<circle cx="804.1" cy="118.4" r="2.5" fill="#505358" stroke="#3a3c40" stroke-width="0.6"/>
<circle cx="809.9" cy="119.5" r="2.5" fill="#3a3d42" stroke="#3a3c40" stroke-width="0.6"/>
<circle cx="790.2" cy="121.9" r="2.5" fill="#55585e" stroke="#3a3c40" stroke-width="0.6"/>
<circle cx="798.9" cy="122.3" r="2.5" fill="#3a3d42" stroke="#3a3c40" stroke-width="0.6"/>
<circle cx="791.2" cy="127.4" r="2.5" fill="#55585e" stroke="#3a3c40" stroke-width="0.6"/>
<circle cx="806.8" cy="128.9" r="2.5" fill="#2f3236" stroke="#3a3c40" stroke-width="0.6"/>
<circle cx="799.4" cy="131.5" r="2.5" fill="#505358" stroke="#3a3c40" stroke-width="0.6"/>
<circle cx="809.6" cy="132.6" r="2.5" fill="#2f3236" stroke="#3a3c40" stroke-width="0.6"/>
<circle cx="780.9" cy="135.7" r="2.5" fill="#2f3236" stroke="#3a3c40" stroke-width="0.6"/>
<circle cx="783.6" cy="136.5" r="2.5" fill="#2f3236" stroke="#3a3c40" stroke-width="0.6"/>
<circle cx="811.6" cy="137.3" r="2.5" fill="#505358" stroke="#3a3c40" stroke-width="0.6"/>
<circle cx="811.2" cy="139.6" r="2.5" fill="#2f3236" stroke="#3a3c40" stroke-width="0.6"/>
<circle cx="817.8" cy="139.6" r="2.5" fill="#4a4d52" stroke="#3a3c40" stroke-width="0.6"/>
<circle cx="823.4" cy="141.5" r="2.5" fill="#55585e" stroke="#3a3c40" stroke-width="0.6"/>
<circle cx="779.4" cy="143.3" r="2.5" fill="#3a3d42" stroke="#3a3c40" stroke-width="0.6"/>
<circle cx="825.3" cy="127.5" r="2.5" fill="#3a3d42" stroke="#3a3c40" stroke-width="0.6"/>
<circle cx="841.4" cy="127.1" r="2.5" fill="#4a4d52" stroke="#3a3c40" stroke-width="0.6"/>
<circle cx="839.2" cy="135.7" r="2.5" fill="#2f3236" stroke="#3a3c40" stroke-width="0.6"/>
<circle cx="852.1" cy="140.7" r="2.5" fill="#4a4d52" stroke="#3a3c40" stroke-width="0.6"/>
<circle cx="860.8" cy="136.5" r="2.5" fill="#55585e" stroke="#3a3c40" stroke-width="0.6"/>
<circle cx="803.6" cy="49.1" r="2.3" fill="#eef0f5" stroke="#4a4c52" stroke-width="0.9"/>
<circle cx="832.7" cy="45.2" r="2.3" fill="#eef0f5" stroke="#4a4c52" stroke-width="0.9"/>
<circle cx="824.9" cy="53.1" r="2.3" fill="#eef0f5" stroke="#4a4c52" stroke-width="0.9"/>
<circle cx="845.8" cy="50.7" r="2.3" fill="#eef0f5" stroke="#4a4c52" stroke-width="0.9"/>
<circle cx="848.2" cy="55.9" r="2.3" fill="#eef0f5" stroke="#4a4c52" stroke-width="0.9"/>
<circle cx="854.1" cy="47.6" r="2.3" fill="#eef0f5" stroke="#4a4c52" stroke-width="0.9"/>
<circle cx="859.5" cy="48.3" r="2.3" fill="#eef0f5" stroke="#4a4c52" stroke-width="0.9"/>
<circle cx="863.4" cy="47.1" r="2.3" fill="#eef0f5" stroke="#4a4c52" stroke-width="0.9"/>
<circle cx="867.8" cy="51.5" r="2.3" fill="#eef0f5" stroke="#4a4c52" stroke-width="0.9"/>
<circle cx="872.6" cy="54.3" r="2.3" fill="#eef0f5" stroke="#4a4c52" stroke-width="0.9"/>
<circle cx="876" cy="51.2" r="2.3" fill="#eef0f5" stroke="#4a4c52" stroke-width="0.9"/>
<circle cx="878.1" cy="44.4" r="2.3" fill="#eef0f5" stroke="#4a4c52" stroke-width="0.9"/>
<circle cx="834.3" cy="60.6" r="2.3" fill="#eef0f5" stroke="#4a4c52" stroke-width="0.9"/>
<circle cx="840" cy="64.9" r="2.3" fill="#eef0f5" stroke="#4a4c52" stroke-width="0.9"/>
<circle cx="857.6" cy="62.5" r="2.3" fill="#eef0f5" stroke="#4a4c52" stroke-width="0.9"/>
<circle cx="863.6" cy="60.9" r="2.3" fill="#eef0f5" stroke="#4a4c52" stroke-width="0.9"/>
<circle cx="872.6" cy="62.8" r="2.3" fill="#eef0f5" stroke="#4a4c52" stroke-width="0.9"/>
<circle cx="878.1" cy="61.2" r="2.3" fill="#eef0f5" stroke="#4a4c52" stroke-width="0.9"/>
<circle cx="853.7" cy="69.1" r="2.3" fill="#eef0f5" stroke="#4a4c52" stroke-width="0.9"/>
<circle cx="846.6" cy="74.8" r="2.3" fill="#eef0f5" stroke="#4a4c52" stroke-width="0.9"/>
<circle cx="873.8" cy="75.1" r="2.3" fill="#eef0f5" stroke="#4a4c52" stroke-width="0.9"/>
<circle cx="844.7" cy="81.4" r="2.3" fill="#eef0f5" stroke="#4a4c52" stroke-width="0.9"/>
<circle cx="857.6" cy="80.1" r="2.3" fill="#eef0f5" stroke="#4a4c52" stroke-width="0.9"/>
<circle cx="856.8" cy="88.8" r="2.3" fill="#eef0f5" stroke="#4a4c52" stroke-width="0.9"/>
<circle cx="865.8" cy="89.7" r="2.3" fill="#eef0f5" stroke="#4a4c52" stroke-width="0.9"/>
<circle cx="874.9" cy="89.3" r="2.3" fill="#eef0f5" stroke="#4a4c52" stroke-width="0.9"/>
<circle cx="854.9" cy="94.3" r="2.3" fill="#eef0f5" stroke="#4a4c52" stroke-width="0.9"/>
<circle cx="862.8" cy="94" r="2.3" fill="#eef0f5" stroke="#4a4c52" stroke-width="0.9"/>
<circle cx="830.4" cy="97.6" r="2.3" fill="#eef0f5" stroke="#4a4c52" stroke-width="0.9"/>
<circle cx="836" cy="99.8" r="2.3" fill="#eef0f5" stroke="#4a4c52" stroke-width="0.9"/>
<circle cx="835.1" cy="102.2" r="2.3" fill="#eef0f5" stroke="#4a4c52" stroke-width="0.9"/>
<circle cx="817.1" cy="101.4" r="2.3" fill="#eef0f5" stroke="#4a4c52" stroke-width="0.9"/>
<circle cx="878.1" cy="100.6" r="2.3" fill="#eef0f5" stroke="#4a4c52" stroke-width="0.9"/>
<circle cx="828.2" cy="106.6" r="2.3" fill="#eef0f5" stroke="#4a4c52" stroke-width="0.9"/>
<circle cx="826.9" cy="110.8" r="2.3" fill="#eef0f5" stroke="#4a4c52" stroke-width="0.9"/>
<circle cx="843.4" cy="106.6" r="2.3" fill="#eef0f5" stroke="#4a4c52" stroke-width="0.9"/>
<circle cx="849.3" cy="107.8" r="2.3" fill="#eef0f5" stroke="#4a4c52" stroke-width="0.9"/>
<circle cx="851.8" cy="111.8" r="2.3" fill="#eef0f5" stroke="#4a4c52" stroke-width="0.9"/>
<circle cx="862.3" cy="106.3" r="2.3" fill="#eef0f5" stroke="#4a4c52" stroke-width="0.9"/>
<circle cx="816.7" cy="114.1" r="2.3" fill="#eef0f5" stroke="#4a4c52" stroke-width="0.9"/>
<circle cx="824.2" cy="115.2" r="2.3" fill="#eef0f5" stroke="#4a4c52" stroke-width="0.9"/>
<circle cx="878.1" cy="114.5" r="2.3" fill="#eef0f5" stroke="#4a4c52" stroke-width="0.9"/>
<circle cx="838.7" cy="120" r="2.3" fill="#eef0f5" stroke="#4a4c52" stroke-width="0.9"/>
<circle cx="847.1" cy="117.9" r="2.3" fill="#eef0f5" stroke="#4a4c52" stroke-width="0.9"/>
<circle cx="854.8" cy="118.7" r="2.3" fill="#eef0f5" stroke="#4a4c52" stroke-width="0.9"/>
<circle cx="867.1" cy="121.5" r="2.3" fill="#eef0f5" stroke="#4a4c52" stroke-width="0.9"/>
<circle cx="872.1" cy="131.8" r="2.3" fill="#eef0f5" stroke="#4a4c52" stroke-width="0.9"/>
<circle cx="878.1" cy="143.3" r="2.3" fill="#eef0f5" stroke="#4a4c52" stroke-width="0.9"/>
<path d="M796.5 39.2C796.5 40.9 795.8 46.3 796.5 49.1C797.2 51.9 798 54.5 800.6 55.9C803.2 57.3 807.7 56.9 812 57.8C816.2 58.7 822.5 58.9 826.1 61.2C829.7 63.6 832.6 68.2 833.7 72C834.8 75.7 834.5 80.2 832.7 83.8C830.9 87.3 826.3 90.1 823 93.2C819.6 96.4 814.7 99.4 812.7 102.7C810.8 105.9 810.4 109.7 811.2 112.9C812 116 814.2 119.7 817.5 121.5C820.7 123.4 825.7 124 830.8 124.2C836 124.5 842.9 122.6 848.2 123.1C853.4 123.6 858.6 124.7 862.3 127.1C866.1 129.4 869 133.7 870.7 137.3C872.4 140.8 872.2 146.5 872.6 148.3" fill="none" stroke="#111" stroke-width="1.3"/>
<rect x="774.3" y="39.3" width="109.3" height="109" fill="none" stroke="#1c1c1c" stroke-width="1.5"/>
<path d="M631.6 246.2C632.7 244.8 635.7 241.8 638.1 237.7C640.6 233.6 643.5 225.5 646.1 221.8C648.8 218 651.4 215.5 654.1 215.2C656.8 214.9 659.3 217.4 662.1 220C664.9 222.6 668.3 228.3 671 230.6C673.6 232.9 675.4 234.1 678 233.8C680.7 233.5 684 231.2 686.9 228.9C689.9 226.6 693.3 221.6 695.8 220C698.3 218.4 699.9 218.2 702 219.1C704.1 220 706 221.6 708.2 225.3C710.4 229 712.6 236.9 715.3 241.3C718 245.6 722.7 249.7 724.2 251.4" fill="none" stroke="#b797b7" stroke-width="2.6" stroke-linecap="butt"/>
<path d="M631.6 281.2C632.7 282.5 635.7 285.8 638.1 289.2C640.6 292.6 643.5 298.6 646.1 301.6C648.8 304.5 651.6 306.8 654.1 306.9C656.6 307.1 658.7 305.7 661.2 302.5C663.7 299.2 666.4 291.2 669.2 287.4C672 283.6 675.4 280 678 279.4C680.7 278.8 682.8 282.1 685.1 283.8C687.5 285.6 689.7 288.8 692.2 290.1C694.8 291.3 697.9 291.9 700.2 291.3C702.6 290.7 704.7 287.6 706.4 286.5C708.1 285.4 708.9 284.3 710.3 284.6C711.8 284.8 713.7 287.3 715.3 287.7C716.9 288.2 718.3 288.2 719.7 287.4C721.2 286.6 723.4 283.7 724.2 283" fill="none" stroke="#6d8cb2" stroke-width="2.6"/>
<path d="M650.9 241.6L650.9 270.4" fill="none" stroke="#111" stroke-width="1.3" opacity="1"/>
<polygon points="650.9,275.5 647.9,267 650.9,268.1 653.9,267" fill="#111" opacity="1"/>
<path d="M650.9 241.6L667.9 269.6" fill="none" stroke="#111" stroke-width="1.3" opacity="1"/>
<polygon points="670.5,274 663.5,268.3 666.7,267.7 668.7,265.2" fill="#111" opacity="1"/>
<path d="M695.8 241.6L695.8 270.4" fill="none" stroke="#111" stroke-width="1.3" opacity="1"/>
<polygon points="695.8,275.5 692.8,267 695.8,268.1 698.8,267" fill="#111" opacity="1"/>
<path d="M695.8 241.6L712.8 269.6" fill="none" stroke="#111" stroke-width="1.3" opacity="1"/>
<polygon points="715.4,274 708.4,268.3 711.6,267.7 713.6,265.2" fill="#111" opacity="1"/>
<path d="M631.6 411.9C632.7 410.6 635.7 407.8 638.1 403.9C640.6 400.1 643.5 392.4 646.1 388.9C648.8 385.3 651.4 382.9 654.1 382.6C656.8 382.4 659.3 384.7 662.1 387.1C664.9 389.4 668.3 394.7 671 396.8C673.6 399 675.4 400.2 678 399.9C680.7 399.6 684 397.3 686.9 395.1C689.9 392.9 693.3 388.2 695.8 386.7C698.3 385.3 699.9 385.4 702 386.2C704.1 387 706 388.1 708.2 391.5C710.4 394.9 712.6 402.5 715.3 406.6C718 410.7 722.7 414.7 724.2 416.4" fill="none" stroke="#b797b7" stroke-width="2.6"/>
<path d="M631.6 445.3C632.7 446.5 635.7 449.6 638.1 452.7C640.6 455.9 643.5 461.6 646.1 464.2C648.8 466.9 651.6 468.6 654.1 468.7C656.6 468.8 658.7 467.8 661.2 464.8C663.7 461.8 666.4 454.2 669.2 450.6C672 447 675.4 443.6 678 443C680.7 442.4 682.8 445.4 685.1 447C687.5 448.7 689.7 451.9 692.2 453.1C694.8 454.3 697.9 454.7 700.2 454.1C702.6 453.5 704.7 450.6 706.4 449.5C708.1 448.5 708.9 447.6 710.3 447.7C711.8 447.9 713.7 450.2 715.3 450.6C716.9 451 718.3 450.9 719.7 450.2C721.2 449.5 723.4 447 724.2 446.3" fill="none" stroke="#6d8cb2" stroke-width="2.6"/>
<path d="M676.3 407L648 429.8" fill="none" stroke="#111" stroke-width="1.3" opacity="1"/>
<polygon points="644,433 648.7,425.3 649.8,428.4 652.5,430" fill="#111" opacity="1"/>
<path d="M676.3 407L676.3 428.2" fill="none" stroke="#111" stroke-width="1.3" opacity="1"/>
<polygon points="676.3,433.3 673.3,424.8 676.3,425.9 679.3,424.8" fill="#111" opacity="1"/>
<path d="M676.3 407L704.5 429.8" fill="none" stroke="#111" stroke-width="1.3" opacity="1"/>
<polygon points="708.5,433 700,430 702.7,428.4 703.8,425.3" fill="#111" opacity="1"/>
<rect x="766" y="210.2" width="126" height="94" fill="#eceef3"/>
<clipPath id="cpL"><rect x="766.5" y="205" width="62.7" height="100"/></clipPath><clipPath id="cpR"><rect x="829.2" y="205" width="62.8" height="100"/></clipPath><clipPath id="cpA"><rect x="766.5" y="205" width="125.5" height="99.5"/></clipPath>
<g fill="none" clip-path="url(#cpL)">
<path d="M766 229.6C769 231.1 777.9 234.2 783.7 238.9C789.5 243.5 794.9 249.8 800.6 257.4C806.2 265 812.6 278.5 817.4 284.4C822.2 290.3 825.3 292 829.2 292.8C833.1 293.6 836.8 292 841 289.4C845.2 286.9 850 282.4 854.5 277.6C859 272.9 863.5 266.1 868 260.8C872.5 255.4 877.5 248.7 881.4 245.6C885.4 242.5 890.2 242.8 891.9 242.2" stroke="#f5cb92" stroke-width="3.2"/>
<path d="M766 232.1C769 232.7 777.9 233.5 783.7 235.5C789.5 237.5 794.9 242.2 800.6 243.9C806.2 245.6 812.6 245.6 817.4 245.6C822.2 245.6 824.7 243.9 829.2 243.9C833.7 243.9 839.6 244.8 844.4 245.6C849.1 246.5 852.8 247.6 857.9 249C862.9 250.4 869 252.9 874.7 254C880.4 255.2 889 255.4 891.9 255.7" stroke="#f5cb92" stroke-width="3.2"/>
<path d="M766 245.6C768.4 246.7 776 249.3 780.3 252.4C784.7 255.4 788.2 259.4 792.1 264.1C796.1 268.9 799.7 275.7 803.9 281C808.1 286.3 813.2 292.7 817.4 296.2C821.6 299.7 825.3 301.5 829.2 302.1C833.1 302.6 836.8 302.5 841 299.5C845.2 296.6 850 289.7 854.5 284.4C859 279 863.5 271.7 868 267.5C872.5 263.3 877.5 261.1 881.4 259.1C885.4 257.1 890.2 256.3 891.9 255.7" stroke="#f5cb92" stroke-width="3.2"/>
<path d="M766 254C769 254 777.9 254.9 783.7 254C789.5 253.2 794.9 250.7 800.6 249C806.2 247.3 812.6 245.2 817.4 243.9C822.2 242.7 825.3 241.4 829.2 241.4C833.1 241.4 836.8 242.1 841 243.9C845.2 245.8 850 248.4 854.5 252.4C859 256.3 863.5 263 868 267.5C872.5 272 877.5 276.9 881.4 279.3C885.4 281.7 890.2 281.4 891.9 281.8" stroke="#f5cb92" stroke-width="3.2"/>
<path d="M766 257.4C769 257.4 778.5 259.4 783.7 257.4C788.9 255.4 793 249.5 797.2 245.6C801.4 241.7 805 237.6 809 233.8C812.9 230 817.4 225.1 820.8 222.9C824.1 220.6 825.8 220.2 829.2 220.3C832.6 220.5 836.8 221.2 841 223.7C845.2 226.2 850.6 231.6 854.5 235.5C858.4 239.4 861.2 244.2 864.6 247.3C868 250.4 870.2 252.1 874.7 254C879.3 256 889 258.3 891.9 259.1" stroke="#f5cb92" stroke-width="3.2"/>
<path d="M766 264.1C768.4 263.6 775.7 262.5 780.3 260.8C785 259.1 789.3 256 793.8 254C798.3 252.1 801.4 250 807.3 249C813.2 248 823 248.4 829.2 248.1C835.4 247.9 839.6 248.3 844.4 247.3C849.1 246.3 853.4 244.5 857.9 242.2C862.3 240 867.4 236.5 871.3 233.8C875.3 231.1 878 228.1 881.4 226.2C884.9 224.4 890.2 223.4 891.9 222.9" stroke="#f5cb92" stroke-width="3.2"/>
<path d="M766 286.9C767.8 286.2 773.2 285.6 777 282.7C780.8 279.7 784.8 273.7 788.8 269.2C792.7 264.7 796.3 259.2 800.6 255.7C804.8 252.2 809.3 249.3 814 248.1C818.8 247 824.7 248.8 829.2 249C833.7 249.1 836.8 249.8 841 249C845.2 248.1 850 246.2 854.5 243.9C859 241.7 863.5 237.7 868 235.5C872.5 233.3 877.5 231.6 881.4 230.4C885.4 229.3 890.2 229 891.9 228.8" stroke="#f5cb92" stroke-width="3.2"/>
<path d="M766 240.6C769 242.2 777.9 248.1 783.7 250.7C789.5 253.2 794.9 254 800.6 255.7C806.2 257.4 812.6 259.5 817.4 260.8C822.2 262 825.3 263.3 829.2 263.3C833.1 263.3 836.8 262.9 841 260.8C845.2 258.7 850 254 854.5 250.7C859 247.3 863.5 243.1 868 240.6C872.5 238 877.5 236.5 881.4 235.5C885.4 234.5 890.2 234.8 891.9 234.7" stroke="#f5cb92" stroke-width="3.2"/>
<path d="M766 229.6C769 231.1 777.9 234.2 783.7 238.9C789.5 243.5 794.9 249.8 800.6 257.4C806.2 265 812.6 278.5 817.4 284.4C822.2 290.3 825.3 292 829.2 292.8C833.1 293.6 836.8 292 841 289.4C845.2 286.9 850 282.4 854.5 277.6C859 272.9 863.5 266.1 868 260.8C872.5 255.4 877.5 248.7 881.4 245.6C885.4 242.5 890.2 242.8 891.9 242.2" stroke="#b4766a" stroke-width="1.6" stroke-dasharray="2 2.6"/>
<path d="M766 232.1C769 232.7 777.9 233.5 783.7 235.5C789.5 237.5 794.9 242.2 800.6 243.9C806.2 245.6 812.6 245.6 817.4 245.6C822.2 245.6 824.7 243.9 829.2 243.9C833.7 243.9 839.6 244.8 844.4 245.6C849.1 246.5 852.8 247.6 857.9 249C862.9 250.4 869 252.9 874.7 254C880.4 255.2 889 255.4 891.9 255.7" stroke="#b4766a" stroke-width="1.6" stroke-dasharray="2 2.6"/>
<path d="M766 245.6C768.4 246.7 776 249.3 780.3 252.4C784.7 255.4 788.2 259.4 792.1 264.1C796.1 268.9 799.7 275.7 803.9 281C808.1 286.3 813.2 292.7 817.4 296.2C821.6 299.7 825.3 301.5 829.2 302.1C833.1 302.6 836.8 302.5 841 299.5C845.2 296.6 850 289.7 854.5 284.4C859 279 863.5 271.7 868 267.5C872.5 263.3 877.5 261.1 881.4 259.1C885.4 257.1 890.2 256.3 891.9 255.7" stroke="#b4766a" stroke-width="1.6" stroke-dasharray="2 2.6"/>
<path d="M766 254C769 254 777.9 254.9 783.7 254C789.5 253.2 794.9 250.7 800.6 249C806.2 247.3 812.6 245.2 817.4 243.9C822.2 242.7 825.3 241.4 829.2 241.4C833.1 241.4 836.8 242.1 841 243.9C845.2 245.8 850 248.4 854.5 252.4C859 256.3 863.5 263 868 267.5C872.5 272 877.5 276.9 881.4 279.3C885.4 281.7 890.2 281.4 891.9 281.8" stroke="#b4766a" stroke-width="1.6" stroke-dasharray="2 2.6"/>
<path d="M766 257.4C769 257.4 778.5 259.4 783.7 257.4C788.9 255.4 793 249.5 797.2 245.6C801.4 241.7 805 237.6 809 233.8C812.9 230 817.4 225.1 820.8 222.9C824.1 220.6 825.8 220.2 829.2 220.3C832.6 220.5 836.8 221.2 841 223.7C845.2 226.2 850.6 231.6 854.5 235.5C858.4 239.4 861.2 244.2 864.6 247.3C868 250.4 870.2 252.1 874.7 254C879.3 256 889 258.3 891.9 259.1" stroke="#b4766a" stroke-width="1.6" stroke-dasharray="2 2.6"/>
<path d="M766 264.1C768.4 263.6 775.7 262.5 780.3 260.8C785 259.1 789.3 256 793.8 254C798.3 252.1 801.4 250 807.3 249C813.2 248 823 248.4 829.2 248.1C835.4 247.9 839.6 248.3 844.4 247.3C849.1 246.3 853.4 244.5 857.9 242.2C862.3 240 867.4 236.5 871.3 233.8C875.3 231.1 878 228.1 881.4 226.2C884.9 224.4 890.2 223.4 891.9 222.9" stroke="#b4766a" stroke-width="1.6" stroke-dasharray="2 2.6"/>
<path d="M766 286.9C767.8 286.2 773.2 285.6 777 282.7C780.8 279.7 784.8 273.7 788.8 269.2C792.7 264.7 796.3 259.2 800.6 255.7C804.8 252.2 809.3 249.3 814 248.1C818.8 247 824.7 248.8 829.2 249C833.7 249.1 836.8 249.8 841 249C845.2 248.1 850 246.2 854.5 243.9C859 241.7 863.5 237.7 868 235.5C872.5 233.3 877.5 231.6 881.4 230.4C885.4 229.3 890.2 229 891.9 228.8" stroke="#b4766a" stroke-width="1.6" stroke-dasharray="2 2.6"/>
<path d="M766 240.6C769 242.2 777.9 248.1 783.7 250.7C789.5 253.2 794.9 254 800.6 255.7C806.2 257.4 812.6 259.5 817.4 260.8C822.2 262 825.3 263.3 829.2 263.3C833.1 263.3 836.8 262.9 841 260.8C845.2 258.7 850 254 854.5 250.7C859 247.3 863.5 243.1 868 240.6C872.5 238 877.5 236.5 881.4 235.5C885.4 234.5 890.2 234.8 891.9 234.7" stroke="#b4766a" stroke-width="1.6" stroke-dasharray="2 2.6"/>
</g><g fill="none" clip-path="url(#cpR)">
<path d="M766 229.6C769 231.1 777.9 234.2 783.7 238.9C789.5 243.5 794.9 249.8 800.6 257.4C806.2 265 812.6 278.5 817.4 284.4C822.2 290.3 825.3 292 829.2 292.8C833.1 293.6 836.8 292 841 289.4C845.2 286.9 850 282.4 854.5 277.6C859 272.9 863.5 266.1 868 260.8C872.5 255.4 877.5 248.7 881.4 245.6C885.4 242.5 890.2 242.8 891.9 242.2" stroke="#6b86b0" stroke-width="3.4"/>
<path d="M766 232.1C769 232.7 777.9 233.5 783.7 235.5C789.5 237.5 794.9 242.2 800.6 243.9C806.2 245.6 812.6 245.6 817.4 245.6C822.2 245.6 824.7 243.9 829.2 243.9C833.7 243.9 839.6 244.8 844.4 245.6C849.1 246.5 852.8 247.6 857.9 249C862.9 250.4 869 252.9 874.7 254C880.4 255.2 889 255.4 891.9 255.7" stroke="#6b86b0" stroke-width="3.4"/>
<path d="M766 245.6C768.4 246.7 776 249.3 780.3 252.4C784.7 255.4 788.2 259.4 792.1 264.1C796.1 268.9 799.7 275.7 803.9 281C808.1 286.3 813.2 292.7 817.4 296.2C821.6 299.7 825.3 301.5 829.2 302.1C833.1 302.6 836.8 302.5 841 299.5C845.2 296.6 850 289.7 854.5 284.4C859 279 863.5 271.7 868 267.5C872.5 263.3 877.5 261.1 881.4 259.1C885.4 257.1 890.2 256.3 891.9 255.7" stroke="#6b86b0" stroke-width="3.4"/>
<path d="M766 254C769 254 777.9 254.9 783.7 254C789.5 253.2 794.9 250.7 800.6 249C806.2 247.3 812.6 245.2 817.4 243.9C822.2 242.7 825.3 241.4 829.2 241.4C833.1 241.4 836.8 242.1 841 243.9C845.2 245.8 850 248.4 854.5 252.4C859 256.3 863.5 263 868 267.5C872.5 272 877.5 276.9 881.4 279.3C885.4 281.7 890.2 281.4 891.9 281.8" stroke="#6b86b0" stroke-width="3.4"/>
<path d="M766 257.4C769 257.4 778.5 259.4 783.7 257.4C788.9 255.4 793 249.5 797.2 245.6C801.4 241.7 805 237.6 809 233.8C812.9 230 817.4 225.1 820.8 222.9C824.1 220.6 825.8 220.2 829.2 220.3C832.6 220.5 836.8 221.2 841 223.7C845.2 226.2 850.6 231.6 854.5 235.5C858.4 239.4 861.2 244.2 864.6 247.3C868 250.4 870.2 252.1 874.7 254C879.3 256 889 258.3 891.9 259.1" stroke="#6b86b0" stroke-width="3.4"/>
<path d="M766 264.1C768.4 263.6 775.7 262.5 780.3 260.8C785 259.1 789.3 256 793.8 254C798.3 252.1 801.4 250 807.3 249C813.2 248 823 248.4 829.2 248.1C835.4 247.9 839.6 248.3 844.4 247.3C849.1 246.3 853.4 244.5 857.9 242.2C862.3 240 867.4 236.5 871.3 233.8C875.3 231.1 878 228.1 881.4 226.2C884.9 224.4 890.2 223.4 891.9 222.9" stroke="#6b86b0" stroke-width="3.4"/>
<path d="M766 286.9C767.8 286.2 773.2 285.6 777 282.7C780.8 279.7 784.8 273.7 788.8 269.2C792.7 264.7 796.3 259.2 800.6 255.7C804.8 252.2 809.3 249.3 814 248.1C818.8 247 824.7 248.8 829.2 249C833.7 249.1 836.8 249.8 841 249C845.2 248.1 850 246.2 854.5 243.9C859 241.7 863.5 237.7 868 235.5C872.5 233.3 877.5 231.6 881.4 230.4C885.4 229.3 890.2 229 891.9 228.8" stroke="#6b86b0" stroke-width="3.4"/>
<path d="M766 240.6C769 242.2 777.9 248.1 783.7 250.7C789.5 253.2 794.9 254 800.6 255.7C806.2 257.4 812.6 259.5 817.4 260.8C822.2 262 825.3 263.3 829.2 263.3C833.1 263.3 836.8 262.9 841 260.8C845.2 258.7 850 254 854.5 250.7C859 247.3 863.5 243.1 868 240.6C872.5 238 877.5 236.5 881.4 235.5C885.4 234.5 890.2 234.8 891.9 234.7" stroke="#6b86b0" stroke-width="3.4"/>
<path d="M766 229.6C769 231.1 777.9 234.2 783.7 238.9C789.5 243.5 794.9 249.8 800.6 257.4C806.2 265 812.6 278.5 817.4 284.4C822.2 290.3 825.3 292 829.2 292.8C833.1 293.6 836.8 292 841 289.4C845.2 286.9 850 282.4 854.5 277.6C859 272.9 863.5 266.1 868 260.8C872.5 255.4 877.5 248.7 881.4 245.6C885.4 242.5 890.2 242.8 891.9 242.2" stroke="#a47a9a" stroke-width="1.4" stroke-dasharray="2 2.6"/>
<path d="M766 232.1C769 232.7 777.9 233.5 783.7 235.5C789.5 237.5 794.9 242.2 800.6 243.9C806.2 245.6 812.6 245.6 817.4 245.6C822.2 245.6 824.7 243.9 829.2 243.9C833.7 243.9 839.6 244.8 844.4 245.6C849.1 246.5 852.8 247.6 857.9 249C862.9 250.4 869 252.9 874.7 254C880.4 255.2 889 255.4 891.9 255.7" stroke="#a47a9a" stroke-width="1.4" stroke-dasharray="2 2.6"/>
<path d="M766 245.6C768.4 246.7 776 249.3 780.3 252.4C784.7 255.4 788.2 259.4 792.1 264.1C796.1 268.9 799.7 275.7 803.9 281C808.1 286.3 813.2 292.7 817.4 296.2C821.6 299.7 825.3 301.5 829.2 302.1C833.1 302.6 836.8 302.5 841 299.5C845.2 296.6 850 289.7 854.5 284.4C859 279 863.5 271.7 868 267.5C872.5 263.3 877.5 261.1 881.4 259.1C885.4 257.1 890.2 256.3 891.9 255.7" stroke="#a47a9a" stroke-width="1.4" stroke-dasharray="2 2.6"/>
<path d="M766 254C769 254 777.9 254.9 783.7 254C789.5 253.2 794.9 250.7 800.6 249C806.2 247.3 812.6 245.2 817.4 243.9C822.2 242.7 825.3 241.4 829.2 241.4C833.1 241.4 836.8 242.1 841 243.9C845.2 245.8 850 248.4 854.5 252.4C859 256.3 863.5 263 868 267.5C872.5 272 877.5 276.9 881.4 279.3C885.4 281.7 890.2 281.4 891.9 281.8" stroke="#a47a9a" stroke-width="1.4" stroke-dasharray="2 2.6"/>
<path d="M766 257.4C769 257.4 778.5 259.4 783.7 257.4C788.9 255.4 793 249.5 797.2 245.6C801.4 241.7 805 237.6 809 233.8C812.9 230 817.4 225.1 820.8 222.9C824.1 220.6 825.8 220.2 829.2 220.3C832.6 220.5 836.8 221.2 841 223.7C845.2 226.2 850.6 231.6 854.5 235.5C858.4 239.4 861.2 244.2 864.6 247.3C868 250.4 870.2 252.1 874.7 254C879.3 256 889 258.3 891.9 259.1" stroke="#a47a9a" stroke-width="1.4" stroke-dasharray="2 2.6"/>
<path d="M766 264.1C768.4 263.6 775.7 262.5 780.3 260.8C785 259.1 789.3 256 793.8 254C798.3 252.1 801.4 250 807.3 249C813.2 248 823 248.4 829.2 248.1C835.4 247.9 839.6 248.3 844.4 247.3C849.1 246.3 853.4 244.5 857.9 242.2C862.3 240 867.4 236.5 871.3 233.8C875.3 231.1 878 228.1 881.4 226.2C884.9 224.4 890.2 223.4 891.9 222.9" stroke="#a47a9a" stroke-width="1.4" stroke-dasharray="2 2.6"/>
<path d="M766 286.9C767.8 286.2 773.2 285.6 777 282.7C780.8 279.7 784.8 273.7 788.8 269.2C792.7 264.7 796.3 259.2 800.6 255.7C804.8 252.2 809.3 249.3 814 248.1C818.8 247 824.7 248.8 829.2 249C833.7 249.1 836.8 249.8 841 249C845.2 248.1 850 246.2 854.5 243.9C859 241.7 863.5 237.7 868 235.5C872.5 233.3 877.5 231.6 881.4 230.4C885.4 229.3 890.2 229 891.9 228.8" stroke="#a47a9a" stroke-width="1.4" stroke-dasharray="2 2.6"/>
<path d="M766 240.6C769 242.2 777.9 248.1 783.7 250.7C789.5 253.2 794.9 254 800.6 255.7C806.2 257.4 812.6 259.5 817.4 260.8C822.2 262 825.3 263.3 829.2 263.3C833.1 263.3 836.8 262.9 841 260.8C845.2 258.7 850 254 854.5 250.7C859 247.3 863.5 243.1 868 240.6C872.5 238 877.5 236.5 881.4 235.5C885.4 234.5 890.2 234.8 891.9 234.7" stroke="#a47a9a" stroke-width="1.4" stroke-dasharray="2 2.6"/>
</g>
<path d="M766 210V304.3H892" fill="none" stroke="#0a0a0a" stroke-width="1.8"/>
<rect x="775.8" y="376.2" width="107.3" height="101.6" fill="#eceef3"/>
<path d="M779.5 444.8C780.1 442.7 781.5 435.4 782.9 431.8C784.3 428.3 786.4 425.3 787.9 423.8C789.5 422.2 790.6 422.2 792.1 422.6C793.7 422.9 795.6 423.7 797.2 425.9C798.7 428.2 800.3 432.1 801.4 436.1C802.5 440 802.8 444.8 803.9 449.5C805 454.3 806.6 460.8 808.1 464.7C809.7 468.6 811.5 471.3 813.2 473.1C814.9 475 816.4 475.5 818.3 475.7C820.1 475.8 822.2 475.7 824.1 474C826.1 472.3 828.2 469.6 830 465.5C831.9 461.5 833.6 455.6 835.1 449.5C836.6 443.5 838.1 435.5 839.3 429.3C840.6 423.1 842.1 415.3 842.7 412.5" fill="none" stroke="#b595b6" stroke-width="3.8"/>
<path d="M842.7 412.5C843.2 410.5 844.7 404.5 846.1 400.7C847.5 396.9 849.1 392.5 851.1 389.7C853.1 387 856 385.2 857.9 384.2C859.7 383.1 860.4 383 862.1 383.5C863.8 384 866 384.9 868 387.2C869.9 389.5 872 393.6 873.9 397.3C875.7 400.9 877.5 405.6 878.9 409.1C880.3 412.6 881.7 416.8 882.3 418.4" fill="none" stroke="#5c7fa9" stroke-width="3.8" stroke-dasharray="6 2.7"/>
<path d="M775.8 376.2V477.8H883.1" fill="none" stroke="#0a0a0a" stroke-width="1.8"/>
<!-- panel b -->
<text class="b" x="0.2" y="560.4" font-size="21" font-weight="bold" fill="#000" stroke="#000" stroke-width="0.9" stroke-linejoin="round">b</text>
<text x="126.1" y="589.8" font-size="18.6" text-anchor="start" font-weight="normal" font-style="normal" fill="#111" textLength="41" lengthAdjust="spacingAndGlyphs" >Input</text>
<rect x="67.9" y="596" width="158" height="95.8" fill="#eceef3"/>
<rect x="67.9" y="689" width="115.1" height="2.2" fill="#e8c0b5"/>
<rect x="183" y="689" width="42.9" height="2.2" fill="#a6b9d6"/>
<path d="M67.9 596V691.8H225.9" fill="none" stroke="#0a0a0a" stroke-width="1.8"/>
<path d="M74.3 633.4C75.3 634.1 78 635.1 80.4 637.6C82.8 640.1 85.9 645.8 88.7 648.7C91.5 651.6 94.5 654.4 97 655.1C99.5 655.8 101.4 655.8 103.9 652.8C106.5 649.9 109.7 642.2 112.3 637.6C114.8 633 117.3 627.7 119.2 625.1C121 622.6 122 621.9 123.3 622.4C124.7 622.8 125.9 623.5 127.5 627.9C129.1 632.3 131 640.6 133 648.7C135.1 656.8 137.7 669.9 140 676.4C142.2 682.9 144.3 687 146.3 687.5C148.4 688 150.3 684.7 152.4 679.2C154.6 673.6 157.1 661.4 159.4 654.2C161.7 647.1 164.4 639.8 166.3 636.2C168.1 632.6 168.8 633.8 170.5 632.6C172.1 631.5 173.9 632.2 176 629.3C178.1 626.4 180.6 619.8 182.9 615.4C185.2 611 188 605.4 189.9 603C191.7 600.6 192.4 600.1 194 601C195.6 601.9 197.5 604.3 199.6 608.5C201.6 612.8 204.2 621.2 206.5 626.5C208.8 631.8 211.3 637.5 213.4 640.4C215.5 643.2 218 643.1 219 643.7" fill="none" stroke="#b590b5" stroke-width="4.3" stroke-linecap="round"/>
<text x="29.7" y="649.5" font-size="18.5" fill="#111" textLength="25.2" lengthAdjust="spacingAndGlyphs"><tspan font-style="italic">u</tspan>(<tspan font-style="italic">t</tspan>)</text>
<path d="M224.5 644.6L244.7 644.6" fill="none" stroke="#111" stroke-width="1.5" opacity="1"/>
<polygon points="250.3,644.6 241,648.4 242.2,644.6 241,640.9" fill="#111" opacity="1"/>
<path d="M146.4 691.5L146.4 817.4" fill="none" stroke="#111" stroke-width="1.5" opacity="1"/>
<polygon points="146.4,823 142.7,813.7 146.4,814.9 150.2,813.7" fill="#111" opacity="1"/>
<!-- panel c -->
<text class="b" x="259.6" y="560.4" font-size="21" font-weight="bold" fill="#000" stroke="#000" stroke-width="0.9" stroke-linejoin="round">c</text>
<g stroke="#111" stroke-width="1.8" fill="none" stroke-linecap="butt">
<path d="M337.9 566.4V590.3 M342.9 566.4V590.3"/>
<path d="M321.6 600L340.5 589.6L358.7 599.5"/>
</g>
<text x="339.9" y="564" font-size="16.5" text-anchor="middle" font-weight="normal" font-style="normal" fill="#111" >O</text>
<text x="311.9" y="610.6" font-size="16.5" text-anchor="middle" font-weight="normal" font-style="normal" fill="#111" >H</text>
<text x="367.2" y="610.6" font-size="16.5" text-anchor="middle" font-weight="normal" font-style="normal" fill="#111" >H</text>
<g stroke="#111" stroke-width="1.8" fill="none">
<path d="M337.7 627.4V650.3 M342.8 627.4V650.3"/>
<path d="M292.4 654.1L312.6 665.2L340.3 649.6L367.2 665.2L386.5 654.1"/>
</g>
<text x="340" y="625.6" font-size="16.5" text-anchor="middle" font-weight="normal" font-style="normal" fill="#111" >O</text>
<text x="265.5" y="655.3" font-size="16.5" text-anchor="start" font-weight="normal" font-style="normal" fill="#111" textLength="23.5" lengthAdjust="spacingAndGlyphs" >HO</text>
<text x="388.5" y="655.3" font-size="16.5" text-anchor="start" font-weight="normal" font-style="normal" fill="#111" textLength="23.4" lengthAdjust="spacingAndGlyphs" >OH</text>
<text x="310" y="692.6" font-size="18.6" text-anchor="start" font-weight="normal" font-style="normal" fill="#111" textLength="50.3" lengthAdjust="spacingAndGlyphs" >NaOH</text>
<text x="314.5" y="728.2" font-size="18.6" fill="#111" textLength="47.9" lengthAdjust="spacingAndGlyphs">CaCl<tspan font-size="13" dy="5.5">2</tspan></text>
<text x="321.2" y="764.4" font-size="18.6" fill="#111" textLength="34.6" lengthAdjust="spacingAndGlyphs">H<tspan font-size="13" dy="5.5">2</tspan><tspan dy="-5.5">O</tspan></text>
<rect x="420" y="554" width="49.3" height="215.3" rx="8.5" ry="8.5" fill="#fff" stroke="#111" stroke-width="3"/>
<circle cx="444.4" cy="582.5" r="15.7" fill="none" stroke="#555a6e" stroke-width="1.4"/>
<path d="M434.7 570.1L460.1 582.5L434.7 594.9" fill="none" stroke="#555a6e" stroke-width="1.4"/>
<circle cx="444.4" cy="623.2" r="15.7" fill="none" stroke="#555a6e" stroke-width="1.4"/>
<path d="M434.7 610.8L460.1 623.2L434.7 635.6" fill="none" stroke="#555a6e" stroke-width="1.4"/>
<circle cx="444.4" cy="664.3" r="15.7" fill="none" stroke="#555a6e" stroke-width="1.4"/>
<path d="M434.7 651.9L460.1 664.3L434.7 676.7" fill="none" stroke="#555a6e" stroke-width="1.4"/>
<circle cx="444.4" cy="705" r="15.7" fill="none" stroke="#555a6e" stroke-width="1.4"/>
<path d="M434.7 692.6L460.1 705L434.7 717.4" fill="none" stroke="#555a6e" stroke-width="1.4"/>
<circle cx="444.4" cy="746.2" r="15.7" fill="none" stroke="#555a6e" stroke-width="1.4"/>
<path d="M434.7 733.8L460.1 746.2L434.7 758.6" fill="none" stroke="#555a6e" stroke-width="1.4"/>
<g fill="none" stroke="#111" stroke-width="2.6">
<path d="M470 582.2H518.8V602"/>
<path d="M470 624.8H489.8L498.5 635.5"/>
<path d="M470 663.1H494"/>
<path d="M470 704H489.8L498.5 693.2"/>
<path d="M470 742.9H518.8V723"/>
</g>
<text x="544" y="566" font-size="18.6" text-anchor="start" font-weight="normal" font-style="normal" fill="#111" textLength="77.2" lengthAdjust="spacingAndGlyphs" >Reservoir</text>
<ellipse cx="582.9" cy="662.9" rx="89.6" ry="85.5" fill="url(#resv)" stroke="#111" stroke-width="2.8"/>
<ellipse cx="582.3" cy="660.7" rx="11.8" ry="35.6" fill="url(#stir)"/>
<path d="M563.7 690.3Q539.8 665.6 558.3 642.5" fill="none" stroke="#111" stroke-width="1.8" opacity="1"/>
<polygon points="561.5,638.5 558.7,647.2 556.9,644.3 553.7,643.1" fill="#111" opacity="1"/>
<path d="M600.2 636.5Q624.5 658.2 608.8 682.7" fill="none" stroke="#111" stroke-width="1.8" opacity="1"/>
<polygon points="606,687 607.9,678.1 610,680.8 613.3,681.6" fill="#111" opacity="1"/>
<path d="M673.5 662.4L701.9 662.4" fill="none" stroke="#111" stroke-width="1.5" opacity="1"/>
<polygon points="707.5,662.4 698.2,666.1 699.4,662.4 698.2,658.6" fill="#111" opacity="1"/>
<!-- panel d -->
<text class="b" x="708.3" y="560.4" font-size="21" font-weight="bold" fill="#000" stroke="#000" stroke-width="0.9" stroke-linejoin="round">d</text>
<text x="752.6" y="602.9" font-size="18.6" text-anchor="start" font-weight="normal" font-style="normal" fill="#111" textLength="136.6" lengthAdjust="spacingAndGlyphs" >Online detection</text>
<rect x="742" y="611.4" width="158.3" height="95.8" fill="#eceef3"/>
<rect x="742" y="705.1" width="116.4" height="1.6" fill="#e8c0b5"/>
<rect x="858.4" y="705.1" width="41.9" height="1.6" fill="#a6b9d6"/>
<path d="M742 611.4V707.2H900.3" fill="none" stroke="#0a0a0a" stroke-width="1.5"/>
<text transform="translate(730.2 706.5) rotate(-90)" font-size="17" fill="#111" textLength="95" lengthAdjust="spacingAndGlyphs">Signal (a.u.)</text>
<path d="M749.9 661.9C751.2 661.9 755.1 662.8 758 661.9C760.8 661 763.6 658 766.9 656.5C770.2 655 773.8 653.2 777.7 652.9C781.6 652.6 786.7 655 790.3 654.7C793.9 654.4 796.3 653.5 799.3 651.1C802.3 648.7 805.3 643.5 808.2 640.3C811.2 637.2 814.5 633.7 817.2 632.2C819.9 630.7 821.7 630.6 824.4 631.3C827.1 632.1 830.4 633.7 833.4 636.7C836.4 639.7 839.4 644.8 842.4 649.3C845.4 653.8 848.4 660.1 851.4 663.7C854.3 667.3 857.3 669.7 860.3 670.9C863.3 672.1 866.6 671.5 869.3 670.9C872 670.3 874.1 666.7 876.5 667.3C878.9 667.9 881 672.1 883.7 674.5C886.4 676.8 891.2 680.4 892.7 681.6" fill="none" stroke="#8fd0a8" stroke-width="3.1" stroke-linecap="round"/>
<path d="M749.9 660.1C751.2 661 755.1 665.2 758 665.5C760.8 665.8 763.9 663.7 766.9 661.9C769.9 660.1 772.9 655.6 775.9 654.7C778.9 653.8 781.9 655.3 784.9 656.5C787.9 657.7 791.2 661.9 793.9 661.9C796.6 661.9 798.1 659.5 801.1 656.5C804.1 653.5 808.5 647.2 811.8 643.9C815.1 640.6 817.8 637.5 820.8 636.7C823.8 636 826.5 637.3 829.8 639.4C833.1 641.5 837 647.1 840.6 649.3C844.2 651.6 847.2 651.7 851.4 652.9C855.5 654.1 861.5 655.3 865.7 656.5C869.9 657.7 873.2 656.8 876.5 660.1C879.8 663.4 882.8 672.4 885.5 676.2C888.2 680.1 891.5 682.2 892.7 683.4" fill="none" stroke="#7cc6a0" stroke-width="3.1" stroke-linecap="round"/>
<path d="M749.9 640.3C750.9 642.1 753.9 646.3 756.2 651.1C758.4 655.9 761 663.1 763.3 669.1C765.7 675 768.1 681.9 770.5 687C772.9 692.1 775.3 696.8 777.7 699.6C780.1 702.4 782.5 704.1 784.9 704.1C787.3 704.1 789.7 702.4 792.1 699.6C794.5 696.8 796.9 691.5 799.3 687C801.7 682.5 804.1 676.8 806.5 672.7C808.8 668.5 811.2 664.3 813.6 661.9C816 659.5 818.1 658.3 820.8 658.3C823.5 658.3 826.8 661.6 829.8 661.9C832.8 662.2 835.8 661.9 838.8 660.1C841.8 658.3 844.8 653.8 847.8 651.1C850.8 648.4 853.7 644.2 856.7 643.9C859.7 643.6 863 645.4 865.7 649.3C868.4 653.2 870.2 660.7 872.9 667.3C875.6 673.9 879.2 683.4 881.9 688.8C884.6 694.2 887.3 697.3 889.1 699.6C890.9 701.8 892.1 701.8 892.7 702.3" fill="none" stroke="#5fb898" stroke-width="3.1" stroke-linecap="round"/>
<path d="M749.9 654.7C751.2 655.3 755.1 656.2 758 658.3C760.8 660.4 763.9 665.5 766.9 667.3C769.9 669.1 772.6 669.1 775.9 669.1C779.2 669.1 783.4 668.5 786.7 667.3C790 666.1 792.7 661.9 795.7 661.9C798.7 661.9 802 664.6 804.7 667.3C807.3 670 809.1 675 811.8 678C814.5 681 818.1 684.3 820.8 685.2C823.5 686.1 825.6 685.2 828 683.4C830.4 681.6 832.8 678.3 835.2 674.5C837.6 670.6 840 664.3 842.4 660.1C844.8 655.9 846.9 652.3 849.6 649.3C852.2 646.3 855.8 642.7 858.5 642.1C861.2 641.5 863.3 642.7 865.7 645.7C868.1 648.7 870.2 656.2 872.9 660.1C875.6 664 878.6 667.1 881.9 669.1C885.2 671 890.9 671.3 892.7 671.8" fill="none" stroke="#4fa890" stroke-width="3.1" stroke-linecap="round"/>
<path d="M749.9 690.6C751.2 689.7 755.4 688.5 758 685.2C760.5 681.9 762.7 675.6 765.1 670.9C767.5 666.1 769.6 659.9 772.3 656.5C775 653 778 651 781.3 650.2C784.6 649.5 788.8 651 792.1 652C795.4 653 797.8 656 801.1 656.5C804.4 656.9 808.5 655.6 811.8 654.7C815.1 653.8 817.2 651.6 820.8 651.1C824.4 650.7 828.9 651.4 833.4 652C837.9 652.6 843 653.9 847.8 654.7C852.5 655.4 857.3 655.3 862.1 656.5C866.9 657.7 871.4 661.1 876.5 661.9C881.6 662.6 890 661.1 892.7 661" fill="none" stroke="#2f9090" stroke-width="3.1" stroke-linecap="round"/>
<path d="M749.9 643C751.2 645.3 755.1 651 758 656.5C760.8 662 763.9 670.6 766.9 676.2C769.9 681.9 772.9 687.3 775.9 690.6C778.9 693.9 781.9 696 784.9 696C787.9 696 790.9 693.9 793.9 690.6C796.9 687.3 799.9 681 802.9 676.2C805.9 671.5 809.1 665.9 811.8 661.9C814.5 657.8 816 653.9 819 652C822 650.1 826.2 650.1 829.8 650.2C833.4 650.4 837 653 840.6 652.9C844.2 652.7 847.8 650.2 851.4 649.3C854.9 648.4 858.5 648 862.1 647.5C865.7 647.1 869.3 646.9 872.9 646.6C876.5 646.3 880.4 645.9 883.7 645.7C887 645.6 891.2 645.7 892.7 645.7" fill="none" stroke="#2a8a90" stroke-width="3.1" stroke-linecap="round"/>
<path d="M749.9 638.5C751.5 640.3 756.3 646.3 759.8 649.3C763.2 652.3 766.9 655.9 770.5 656.5C774.1 657.1 777.7 652.9 781.3 652.9C784.9 652.9 788.5 655.6 792.1 656.5C795.7 657.4 799.3 657.7 802.9 658.3C806.5 658.9 810.3 659.2 813.6 660.1C816.9 661 819.3 664 822.6 663.7C825.9 663.4 829.8 661.6 833.4 658.3C837 655 840.6 647.5 844.2 643.9C847.8 640.3 851.6 637.3 854.9 636.7C858.2 636.1 861.2 637.3 863.9 640.3C866.6 643.3 868.7 648.7 871.1 654.7C873.5 660.7 875.9 669.7 878.3 676.2C880.7 682.8 883.1 690 885.5 694.2C887.9 698.4 891.5 700.2 892.7 701.4" fill="none" stroke="#1f5f88" stroke-width="3.1" stroke-linecap="round"/>
<path d="M749.9 638.5C751.2 639.4 755.1 641.5 758 643.9C760.8 646.3 763.9 650.2 766.9 652.9C769.9 655.6 772.9 658.3 775.9 660.1C778.9 661.9 782.2 663.7 784.9 663.7C787.6 663.7 789.4 661.9 792.1 660.1C794.8 658.3 797.8 655.1 801.1 652.9C804.4 650.7 808.2 648.3 811.8 646.6C815.4 645 819 644.2 822.6 643C826.2 641.8 830.1 641.1 833.4 639.4C836.7 637.8 839.4 634.9 842.4 633.1C845.4 631.3 848.1 629.6 851.4 628.7C854.6 627.8 857.9 627.9 862.1 627.8C866.3 627.6 871.4 627.8 876.5 627.8C881.6 627.8 890 627.8 892.7 627.8" fill="none" stroke="#1f7a8c" stroke-width="3.1" stroke-linecap="round"/>
<path d="M749.9 670.9C751.5 670.3 756.6 670 759.8 667.3C762.9 664.6 765.7 659.8 768.7 654.7C771.7 649.6 775 640.9 777.7 636.7C780.4 632.5 782.5 629.9 784.9 629.6C787.3 629.3 789.4 631.9 792.1 634.9C794.8 637.9 798.1 643.6 801.1 647.5C804.1 651.4 807 655.9 810 658.3C813 660.7 815.7 661.3 819 661.9C822.3 662.5 826.8 661 829.8 661.9C832.8 662.8 834.3 664.9 837 667.3C839.7 669.7 843 673.9 846 676.2C849 678.6 852.2 681.2 854.9 681.6C857.6 682.1 859.7 681.3 862.1 678.9C864.5 676.5 866.9 672.2 869.3 667.3C871.7 662.3 874.1 654.1 876.5 649.3C878.9 644.5 881 641.1 883.7 638.5C886.4 636 891.2 634.8 892.7 634" fill="none" stroke="#235a8a" stroke-width="3.1" stroke-linecap="round"/>
<path d="M873.9 613.3L873.9 844.4" fill="none" stroke="#111" stroke-width="1.5" opacity="1"/>
<polygon points="873.9,850 870.1,840.7 873.9,841.9 877.6,840.7" fill="#111" opacity="1"/>
<!-- panel e -->
<text class="b" x="-0.6" y="820.5" font-size="21" font-weight="bold" fill="#000" stroke="#000" stroke-width="0.9" stroke-linejoin="round">e</text>
<text x="58.2" y="848.9" font-size="18.6" text-anchor="start" font-weight="normal" font-style="normal" fill="#111" textLength="176.8" lengthAdjust="spacingAndGlyphs" >Target transformation</text>
<rect x="67.9" y="857.9" width="158" height="102.4" fill="#eceef3"/>
<rect x="67.9" y="957.5" width="115.1" height="2.2" fill="#e8c0b5"/>
<rect x="183" y="957.5" width="42.9" height="2.2" fill="#a6b9d6"/>
<path d="M67.9 857.9V960.3H225.9" fill="none" stroke="#0a0a0a" stroke-width="1.8"/>
<path d="M74.3 862.6C75.1 863.4 77.3 864 79 867.6C80.7 871.2 82.7 878.2 84.5 884.2C86.4 890.2 88.2 898.1 90.1 903.6C91.9 909.2 93.5 914.3 95.6 917.5C97.7 920.7 100.2 919.8 102.5 923C104.9 926.3 107.2 932.3 109.5 936.9C111.8 941.5 114.3 947.7 116.4 950.8C118.5 953.8 120.1 955.5 122 955.5C123.8 955.5 125.4 954.8 127.5 950.8C129.6 946.7 132.1 937.6 134.4 931.4C136.7 925.1 139.5 917 141.4 913.3C143.2 909.6 143.9 910.3 145.5 909.2C147.1 908 148.7 908.7 151.1 906.4C153.4 904.1 156.8 898.6 159.4 895.3C161.9 892.1 164.2 888.5 166.3 887C168.4 885.5 169.8 884.3 171.8 886.2C173.9 888 176.2 892.4 178.8 898.1C181.3 903.8 184.5 914.5 187.1 920.3C189.6 926 191.9 931.6 194 932.7C196.1 933.9 197.5 930.7 199.6 927.2C201.6 923.7 204.2 916.3 206.5 912C208.8 907.6 211.3 903.3 213.4 900.9C215.5 898.4 218 897.9 219 897.3" fill="none" stroke="#bc5c67" stroke-width="4.5" stroke-linecap="round"/>
<text x="20.8" y="913.5" font-size="18.5" fill="#111" textLength="35.5" lengthAdjust="spacingAndGlyphs"><tspan font-style="italic">f</tspan>(<tspan font-style="italic">t</tspan>,<tspan font-style="italic">u</tspan>)</text>
<path d="M227.8 901L326.9 901" fill="none" stroke="#111" stroke-width="1.5" opacity="1"/>
<polygon points="332.5,901 323.2,904.8 324.4,901 323.2,897.2" fill="#111" opacity="1"/>
<!-- panel f -->
<text class="b" x="339" y="820.5" font-size="21" font-weight="bold" fill="#000" stroke="#000" stroke-width="0.9" stroke-linejoin="round">f</text>
<rect x="358.1" y="859.1" width="157.5" height="101.3" fill="#eceef3"/>
<rect x="358.1" y="956.7" width="117" height="3.1" fill="#e8c0b5"/>
<rect x="475.1" y="956.7" width="40.5" height="3.1" fill="#a6b9d6"/>
<path d="M358.1 859.1V960.4H515.6" fill="none" stroke="#0a0a0a" stroke-width="1.8"/>
<path d="M365.2 899.8C371 900 387.9 900.9 399.8 901.1C411.8 901.3 427.3 900.2 437.1 901.1C446.8 902 451.3 904.7 458.4 906.4C465.5 908.2 473.5 911.5 479.7 911.8C485.9 912 490.7 908.9 495.6 907.8C500.5 906.7 506.7 905.6 508.9 905.1" fill="none" stroke="#a9bcd8" stroke-width="2.2" stroke-dasharray="7.5 3.4"/>
<path d="M365.2 882.5C367 884.3 371.9 889.6 375.9 893.1C379.9 896.7 384.3 900.7 389.2 903.8C394.1 906.9 400.3 909.5 405.2 911.8C410 914 414 918 418.5 917.1C422.9 916.2 426.9 909.1 431.8 906.4C436.6 903.8 442.4 901.3 447.7 901.1C453 900.9 458.4 903.3 463.7 905.1C469 906.9 474.3 911.1 479.7 911.8C485 912.4 490.7 909.3 495.6 909.1C500.5 908.9 506.7 910.2 508.9 910.4" fill="none" stroke="#a9bcd8" stroke-width="2.2" stroke-dasharray="7.5 3.4"/>
<path d="M367.9 869.2C369.7 874.1 375 890.5 378.5 898.5C382.1 906.4 385.2 912.2 389.2 917.1C393.2 922 398.7 924.4 402.5 927.7C406.3 931.1 408.9 937 411.8 937C414.7 937 416.5 932.6 419.8 927.7C423.1 922.8 427.5 912.4 431.8 907.8C436 903.1 440.6 902.4 445.1 899.8C449.5 897.1 454.4 890.7 458.4 891.8C462.4 892.9 465 901.3 469 906.4C473 911.5 478.3 921.1 482.3 922.4C486.3 923.7 489 918.4 493 914.4C497 910.4 504.1 901.1 506.3 898.5" fill="none" stroke="#a9bcd8" stroke-width="2.2" stroke-dasharray="7.5 3.4"/>
<path d="M364.9 862.9C365.7 863.7 367.9 864.3 369.6 867.9C371.3 871.5 373.3 878.5 375.1 884.5C377 890.5 378.8 898.4 380.7 903.9C382.5 909.5 384.1 914.6 386.2 917.8C388.3 921 390.8 920.1 393.1 923.3C395.5 926.6 397.8 932.6 400.1 937.2C402.4 941.8 404.9 948 407 951.1C409.1 954.1 410.7 955.8 412.6 955.8C414.4 955.8 416 955.1 418.1 951.1C420.2 947 422.7 937.9 425 931.7C427.3 925.4 430.1 917.3 432 913.6C433.8 909.9 434.5 910.6 436.1 909.5C437.7 908.3 439.3 909 441.7 906.7C444 904.4 447.4 898.9 450 895.6C452.5 892.4 454.8 888.8 456.9 887.3C459 885.8 460.4 884.6 462.4 886.5C464.5 888.3 466.8 892.7 469.4 898.4C471.9 904.1 475.1 914.8 477.7 920.6C480.2 926.3 482.5 931.9 484.6 933C486.7 934.2 488.1 931 490.2 927.5C492.2 924 494.8 916.6 497.1 912.3C499.4 907.9 501.9 903.6 504 901.2C506.1 898.7 508.6 898.2 509.6 897.6" fill="none" stroke="#bc5c67" stroke-width="4.5" stroke-linecap="round"/>
<path d="M364.9 862.9C365.7 863.7 367.9 864.3 369.6 867.9C371.3 871.5 373.3 878.5 375.1 884.5C377 890.5 378.8 898.4 380.7 903.9C382.5 909.5 384.1 914.6 386.2 917.8C388.3 921 390.8 920.1 393.1 923.3C395.5 926.6 397.8 932.6 400.1 937.2C402.4 941.8 404.9 948 407 951.1C409.1 954.1 410.7 955.8 412.6 955.8C414.4 955.8 416 955.1 418.1 951.1C420.2 947 422.7 937.9 425 931.7C427.3 925.4 430.1 917.3 432 913.6C433.8 909.9 434.5 910.6 436.1 909.5C437.7 908.3 439.3 909 441.7 906.7C444 904.4 447.4 898.9 450 895.6C452.5 892.4 454.8 888.8 456.9 887.3C459 885.8 460.4 884.6 462.4 886.5C464.5 888.3 466.8 892.7 469.4 898.4C471.9 904.1 475.1 914.8 477.7 920.6C480.2 926.3 482.5 931.9 484.6 933C486.7 934.2 488.1 931 490.2 927.5C492.2 924 494.8 916.6 497.1 912.3C499.4 907.9 501.9 903.6 504 901.2C506.1 898.7 508.6 898.2 509.6 897.6" fill="none" stroke="#5a7db0" stroke-width="3" stroke-dasharray="9 3"/>
<path d="M486.3 861.7V957.5" stroke="#111" stroke-width="1.4"/>
<path d="M419.3 859V827.9H771.3V846" fill="none" stroke="#d48c79" stroke-width="1.3"/>
<polygon points="771.3,852 768,844 771.3,845 774.5,844" fill="#d48c79"/>
<text x="569.2" y="821.4" font-size="18.6" text-anchor="start" font-weight="normal" font-style="normal" fill="#111" textLength="38.1" lengthAdjust="spacingAndGlyphs" >Train</text>
<text x="533.8" y="849.4" font-size="17.5" fill="#111" textLength="115.3" lengthAdjust="spacingAndGlyphs">min |<tspan font-style="italic">f</tspan>(<tspan font-style="italic">u</tspan>) – <tspan font-style="italic">Wx</tspan>|</text>
<text x="544" y="866.7" font-size="17.5" text-anchor="start" font-weight="normal" font-style="italic" fill="#111" textLength="17.2" lengthAdjust="spacingAndGlyphs" >W</text>
<g fill="none" stroke="#111" stroke-width="1.6">
<path d="M655 909.6L705.4 862.4H771.7"/>
<path d="M655 909.6L705.4 873.3H760.9"/>
<path d="M655 909.6L705.4 883.6H771.7"/>
<path d="M655 909.6L705.4 894.3H746.4"/>
<path d="M655 909.6L705.4 904.9H758.2"/>
<path d="M655 909.6L705.4 914.9H771.7"/>
<path d="M655 909.6L705.4 925.3H767.2"/>
<path d="M655 909.6L705.4 935.8H760"/>
<path d="M655 909.6L705.4 946.2H754.4"/>
<path d="M655 909.6L705.4 956.9H771.7"/>
</g>
<circle cx="652" cy="909.7" r="14.2" fill="#eceef3" stroke="#111" stroke-width="1.7"/>
<text class="b" x="652.2" y="916.2" font-size="18.5" text-anchor="middle" font-family="Liberation Serif, serif" fill="#111" stroke="#111" stroke-width="0.5" textLength="11" lengthAdjust="spacingAndGlyphs">Σ</text>
<path d="M637 909.6L528.6 909.6" fill="none" stroke="#111" stroke-width="1.5" opacity="1"/>
<polygon points="523,909.6 532.3,905.9 531.1,909.6 532.3,913.4" fill="#111" opacity="1"/>
<rect x="771.7" y="858.2" width="10" height="9.4" fill="#d9846b" stroke="#111" stroke-width="1.6"/>
<rect x="760.9" y="869" width="10.8" height="8.9" fill="#d9846b" stroke="#111" stroke-width="1.6"/>
<rect x="771.7" y="878.8" width="6" height="9.7" fill="#d9846b" stroke="#111" stroke-width="1.6"/>
<rect x="746.4" y="889.1" width="25.3" height="9.9" fill="#d9846b" stroke="#111" stroke-width="1.6"/>
<rect x="758.2" y="900.1" width="13.5" height="9.2" fill="#d9846b" stroke="#111" stroke-width="1.6"/>
<rect x="771.7" y="910.2" width="15.6" height="10.1" fill="#d9846b" stroke="#111" stroke-width="1.6"/>
<rect x="767.2" y="920.9" width="4.5" height="9.4" fill="#d9846b" stroke="#111" stroke-width="1.6"/>
<rect x="760" y="931.5" width="11.7" height="9.1" fill="#d9846b" stroke="#111" stroke-width="1.6"/>
<rect x="754.4" y="941.1" width="17.3" height="10.1" fill="#d9846b" stroke="#111" stroke-width="1.6"/>
<rect x="771.7" y="951.8" width="6.7" height="9.5" fill="#d9846b" stroke="#111" stroke-width="1.6"/>
<path d="M771.7 858.2V961.3" stroke="#111" stroke-width="1.8"/>
<text x="763.8" y="977" font-size="17.5" text-anchor="start" font-weight="normal" font-style="italic" fill="#111" textLength="15.7" lengthAdjust="spacingAndGlyphs" >W</text>
<text x="868.4" y="977" font-size="17.5" text-anchor="start" font-weight="normal" font-style="italic" fill="#111" textLength="9.6" lengthAdjust="spacingAndGlyphs" >x</text>
<rect x="868.4" y="858.2" width="5.2" height="9.4" fill="#93d2ab" stroke="#1c3446" stroke-width="1.8"/>
<rect x="860.1" y="869" width="13.5" height="9.4" fill="#8fd3da" stroke="#1c3446" stroke-width="1.8"/>
<rect x="854.1" y="878.8" width="19.5" height="9.7" fill="#2b4f96" stroke="#1c3446" stroke-width="1.8"/>
<rect x="864.6" y="889.6" width="9" height="9.4" fill="#82d2a2" stroke="#1c3446" stroke-width="1.8"/>
<rect x="859" y="900.1" width="14.6" height="9.2" fill="#82d3d2" stroke="#1c3446" stroke-width="1.8"/>
<rect x="866.9" y="910.9" width="6.7" height="8.9" fill="#3f9c92" stroke="#1c3446" stroke-width="1.8"/>
<rect x="868.4" y="920.9" width="5.2" height="9.4" fill="#82caa2" stroke="#1c3446" stroke-width="1.8"/>
<rect x="862.4" y="931.5" width="11.2" height="9.1" fill="#82d2a2" stroke="#1c3446" stroke-width="1.8"/>
<rect x="860.1" y="941.5" width="13.5" height="9.7" fill="#82d2aa" stroke="#1c3446" stroke-width="1.8"/>
<rect x="858.6" y="952.3" width="15" height="9" fill="#2a80a2" stroke="#1c3446" stroke-width="1.8"/>
<text transform="translate(892.3 956.5) rotate(-90)" font-size="17.5" fill="#111" textLength="92.5" lengthAdjust="spacingAndGlyphs">Compound</text>
<path d="M771.7 981.4V997.6 M873.6 981.4V997.6H486.3V973" fill="none" stroke="#6b8bb8" stroke-width="1.3"/>
<polygon points="486.3,967 489.6,975 486.3,974 483.1,975" fill="#6b8bb8"/>
<text x="555.4" y="987.8" font-size="17.5" fill="#111" textLength="72.4" lengthAdjust="spacingAndGlyphs"><tspan font-style="italic">f</tspan>(<tspan font-style="italic">u</tspan>) ≈ <tspan font-style="italic">Wx</tspan></text>
<text x="562.6" y="1019.6" font-size="18.6" text-anchor="start" font-weight="normal" font-style="normal" fill="#111" textLength="58.5" lengthAdjust="spacingAndGlyphs" >Predict</text>
</g></svg></body></html>
